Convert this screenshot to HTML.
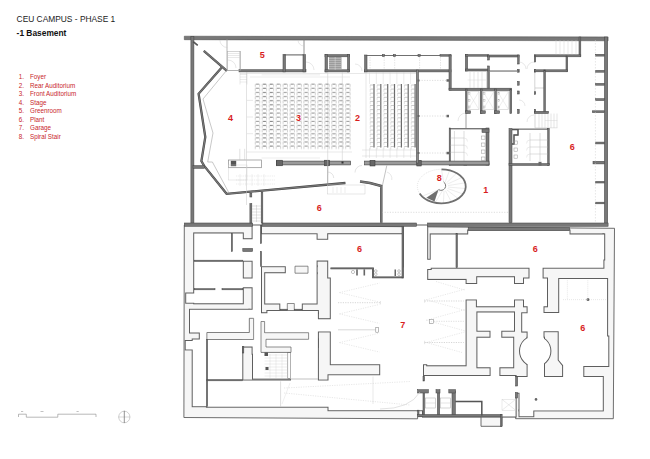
<!DOCTYPE html>
<html><head><meta charset="utf-8"><title>CEU Campus - Phase 1</title>
<style>
html,body{margin:0;padding:0;background:#fff;}
body{width:650px;height:459px;overflow:hidden;}
svg{display:block;font-family:"Liberation Sans",sans-serif;}
.lg{fill:#c8262a;font-size:6.3px;}
</style></head><body>
<svg width="650" height="459" viewBox="0 0 650 459">
<rect width="650" height="459" fill="#fff"/>
<text x="16.6" y="21.6" font-size="8.4" fill="#222">CEU CAMPUS - PHASE 1</text>
<text x="16.6" y="36.2" font-size="8.4" font-weight="bold" fill="#111">-1 Basement</text>
<text x="18.7" y="79.3" class="lg">1.</text><text x="30" y="79.3" class="lg">Foyer</text>
<text x="18.7" y="87.8" class="lg">2.</text><text x="30" y="87.8" class="lg">Rear Auditorium</text>
<text x="18.7" y="96.3" class="lg">3.</text><text x="30" y="96.3" class="lg">Front Auditorium</text>
<text x="18.7" y="104.8" class="lg">4.</text><text x="30" y="104.8" class="lg">Stage</text>
<text x="18.7" y="113.3" class="lg">5.</text><text x="30" y="113.3" class="lg">Greenroom</text>
<text x="18.7" y="121.8" class="lg">6.</text><text x="30" y="121.8" class="lg">Plant</text>
<text x="18.7" y="130.3" class="lg">7.</text><text x="30" y="130.3" class="lg">Garage</text>
<text x="18.7" y="138.8" class="lg">8.</text><text x="30" y="138.8" class="lg">Spiral Stair</text>
<!-- scale bar -->
<polyline points="18.5,417 18.5,414.2 26.3,414.2 26.3,417.2 57.8,417.2 57.8,414.2 96,414.2 96,417" fill="none" stroke="#8a8a8a" stroke-width="0.6"/>
<rect x="21" y="411" width="2.2" height="0.9" fill="#bbb"/><rect x="40.5" y="411" width="3" height="0.9" fill="#bbb"/><rect x="76.5" y="411" width="2.2" height="0.9" fill="#bbb"/>
<ellipse cx="124.3" cy="417" rx="5.6" ry="5.8" fill="none" stroke="#a0a0a0" stroke-width="0.5"/>
<line x1="118.3" y1="417" x2="130.3" y2="417" stroke="#b0b0b0" stroke-width="0.5"/>
<line x1="124.3" y1="410.8" x2="124.3" y2="423" stroke="#666" stroke-width="0.7"/>
<polygon points="184.3,225 614.5,228.3 613.3,418.7 515.6,418.7 515.6,396 502,396 502,426.3 481,426.3 481,416.6 417.6,416.6 417.6,418.8 183.9,417.5" fill="#f6f6f6" stroke="#5e5e5e" stroke-width="0.9" />
<rect x="194.2" y="233.4" width="48.6" height="69.9" fill="none" stroke="#5e5e5e" stroke-width="2.0"/>
<rect x="186.2" y="293.5" width="8" height="9.2" fill="none" stroke="#5e5e5e" stroke-width="2.0"/>
<rect x="242.8" y="239.2" width="9.8" height="21.5" fill="none" stroke="#5e5e5e" stroke-width="2.0"/>
<rect x="242.8" y="278.5" width="9.8" height="8.8" fill="none" stroke="#5e5e5e" stroke-width="2.0"/>
<rect x="252.6" y="225.5" width="8.4" height="128.3" fill="none" stroke="#5e5e5e" stroke-width="2.0"/>
<rect x="261" y="234.3" width="55.6" height="31.9" fill="none" stroke="#5e5e5e" stroke-width="2.0"/>
<rect x="285.8" y="266.2" width="30.8" height="7" fill="none" stroke="#5e5e5e" stroke-width="2.0"/>
<rect x="265.2" y="273.2" width="51.4" height="30.3" fill="none" stroke="#5e5e5e" stroke-width="2.0"/>
<rect x="280.3" y="303.3" width="21.5" height="7.2" fill="none" stroke="#5e5e5e" stroke-width="2.0"/>
<rect x="316.6" y="239.8" width="11.6" height="20.8" fill="none" stroke="#5e5e5e" stroke-width="2.0"/>
<rect x="328.2" y="234.2" width="73.8" height="43.3" fill="none" stroke="#5e5e5e" stroke-width="2.0"/>
<rect x="267.4" y="311" width="50.5" height="2.2" fill="none" stroke="#5e5e5e" stroke-width="2.0"/>
<rect x="261" y="313.2" width="56.9" height="18.2" fill="none" stroke="#5e5e5e" stroke-width="2.0"/>
<rect x="317.9" y="319.2" width="12.9" height="12.2" fill="none" stroke="#5e5e5e" stroke-width="2.0"/>
<rect x="264.6" y="331.4" width="53.3" height="15.6" fill="none" stroke="#5e5e5e" stroke-width="2.0"/>
<rect x="291" y="339.3" width="26.9" height="42" fill="none" stroke="#5e5e5e" stroke-width="2.0"/>
<rect x="253" y="352.4" width="38" height="26.4" fill="none" stroke="#5e5e5e" stroke-width="2.0"/>
<rect x="242.3" y="339.3" width="18.7" height="7.3" fill="none" stroke="#5e5e5e" stroke-width="2.0"/>
<rect x="206.9" y="339.5" width="35.4" height="41.1" fill="none" stroke="#5e5e5e" stroke-width="2.0"/>
<rect x="190" y="309.8" width="59.3" height="22.7" fill="none" stroke="#5e5e5e" stroke-width="2.0"/>
<rect x="249.3" y="309.8" width="3.3" height="8.5" fill="none" stroke="#5e5e5e" stroke-width="2.0"/>
<rect x="199.8" y="332.5" width="7.1" height="7" fill="none" stroke="#5e5e5e" stroke-width="2.0"/>
<rect x="192.7" y="339.5" width="14.2" height="66.7" fill="none" stroke="#5e5e5e" stroke-width="2.0"/>
<rect x="185.7" y="341" width="7" height="8.4" fill="none" stroke="#5e5e5e" stroke-width="2.0"/>
<rect x="206.9" y="380.6" width="121.6" height="26.1" fill="none" stroke="#5e5e5e" stroke-width="2.0"/>
<rect x="328.5" y="375.3" width="89.1" height="34.9" fill="none" stroke="#5e5e5e" stroke-width="2.0"/>
<rect x="330.8" y="267.5" width="96.4" height="96.7" fill="none" stroke="#5e5e5e" stroke-width="2.0"/>
<rect x="380.2" y="364.2" width="42.8" height="11.8" fill="none" stroke="#5e5e5e" stroke-width="2.0"/>
<rect x="417.6" y="376" width="5.4" height="34.2" fill="none" stroke="#5e5e5e" stroke-width="2.0"/>
<rect x="403.7" y="225.5" width="23.5" height="43.5" fill="none" stroke="#5e5e5e" stroke-width="2.0"/>
<rect x="427.2" y="259.8" width="3.5" height="9.2" fill="none" stroke="#5e5e5e" stroke-width="2.0"/>
<rect x="427.2" y="279.9" width="38.4" height="85.4" fill="none" stroke="#5e5e5e" stroke-width="2.0"/>
<rect x="430.7" y="234.4" width="172.7" height="33.3" fill="none" stroke="#5e5e5e" stroke-width="2.0"/>
<rect x="603.4" y="234.4" width="0.8" height="25.1" fill="none" stroke="#5e5e5e" stroke-width="2.0"/>
<rect x="468.2" y="230.5" width="101.3" height="3.9" fill="none" stroke="#5e5e5e" stroke-width="2.0"/>
<rect x="529.5" y="267.7" width="13.1" height="11.3" fill="none" stroke="#5e5e5e" stroke-width="2.0"/>
<rect x="524" y="278.5" width="23" height="27.8" fill="none" stroke="#5e5e5e" stroke-width="2.0"/>
<rect x="465.5" y="284" width="62.1" height="15.4" fill="none" stroke="#5e5e5e" stroke-width="2.0"/>
<rect x="477.2" y="277.2" width="36.8" height="22.2" fill="none" stroke="#5e5e5e" stroke-width="2.0"/>
<rect x="476.9" y="299.4" width="37.1" height="6.9" fill="none" stroke="#5e5e5e" stroke-width="2.0"/>
<rect x="527.6" y="306.3" width="15.9" height="31.4" fill="none" stroke="#5e5e5e" stroke-width="2.0"/>
<rect x="522.2" y="313.3" width="5.4" height="18.3" fill="none" stroke="#5e5e5e" stroke-width="2.0"/>
<rect x="543.5" y="313" width="15.7" height="18.2" fill="none" stroke="#5e5e5e" stroke-width="2.0"/>
<rect x="527.6" y="337.7" width="16.4" height="39.8" fill="none" stroke="#5e5e5e" stroke-width="2.0"/>
<circle cx="535.2" cy="351.1" r="15.2" fill="none" stroke="#5e5e5e" stroke-width="2.0"/>
<polygon points="559.2,279 607.1,279 607.1,336.4 608.3,336.4 608.3,366 583.3,366 583.3,377.5 563.1,377.5 563.1,365.3 558.7,360 558.7,331 559.2,331" fill="none" stroke="#5e5e5e" stroke-width="2.0"/>
<rect x="519.5" y="377" width="83.3" height="33.4" fill="none" stroke="#5e5e5e" stroke-width="2.0"/>
<rect x="519.5" y="410.4" width="13.8" height="5.8" fill="none" stroke="#5e5e5e" stroke-width="2.0"/>
<rect x="515.6" y="377" width="3.9" height="15.7" fill="none" stroke="#5e5e5e" stroke-width="2.0"/>
<rect x="477.4" y="312.4" width="36.6" height="18.3" fill="none" stroke="#5e5e5e" stroke-width="2.0"/>
<rect x="477.4" y="337.7" width="35.8" height="29.6" fill="none" stroke="#5e5e5e" stroke-width="2.0"/>
<rect x="490.5" y="330.7" width="10.8" height="7" fill="none" stroke="#5e5e5e" stroke-width="2.0"/>
<rect x="490.6" y="367.3" width="8.8" height="9.2" fill="none" stroke="#5e5e5e" stroke-width="2.0"/>
<rect x="423" y="376" width="92.6" height="40.6" fill="none" stroke="#5e5e5e" stroke-width="2.0"/>
<path d="M194.2 233.4H242.8V303.3H194.2ZM186.2 293.5H194.2V302.7H186.2ZM242.8 239.2H252.6V260.7H242.8ZM242.8 278.5H252.6V287.3H242.8ZM252.6 225.5H261V353.8H252.6ZM261 234.3H316.6V266.2H261ZM285.8 266.2H316.6V273.2H285.8ZM265.2 273.2H316.6V303.5H265.2ZM280.3 303.3H301.8V310.5H280.3ZM316.6 239.8H328.2V260.6H316.6ZM328.2 234.2H402V277.5H328.2ZM267.4 311H317.9V313.2H267.4ZM261 313.2H317.9V331.4H261ZM317.9 319.2H330.8V331.4H317.9ZM264.6 331.4H317.9V347H264.6ZM291 339.3H317.9V381.3H291ZM253 352.4H291V378.8H253ZM242.3 339.3H261V346.6H242.3ZM206.9 339.5H242.3V380.6H206.9ZM190 309.8H249.3V332.5H190ZM249.3 309.8H252.6V318.3H249.3ZM199.8 332.5H206.9V339.5H199.8ZM192.7 339.5H206.9V406.2H192.7ZM185.7 341H192.7V349.4H185.7ZM206.9 380.6H328.5V406.7H206.9ZM328.5 375.3H417.6V410.2H328.5ZM330.8 267.5H427.2V364.2H330.8ZM380.2 364.2H423V376H380.2ZM417.6 376H423V410.2H417.6ZM403.7 225.5H427.2V269H403.7ZM427.2 259.8H430.7V269H427.2ZM427.2 279.9H465.6V365.3H427.2ZM430.7 234.4H603.4V267.7H430.7ZM603.4 234.4H604.2V259.5H603.4ZM468.2 230.5H569.5V234.4H468.2ZM529.5 267.7H542.6V279H529.5ZM524 278.5H547V306.3H524ZM465.5 284H527.6V299.4H465.5ZM477.2 277.2H514V299.4H477.2ZM476.9 299.4H514V306.3H476.9ZM527.6 306.3H543.5V337.7H527.6ZM522.2 313.3H527.6V331.6H522.2ZM543.5 313H559.2V331.2H543.5ZM527.6 337.7H544V377.5H527.6ZM520 351.1A15.2 15.2 0 0 1 550.4 351.1A15.2 15.2 0 0 1 520 351.1ZM559.2 279L607.1 279L607.1 336.4L608.3 336.4L608.3 366L583.3 366L583.3 377.5L563.1 377.5L563.1 365.3L558.7 360L558.7 331L559.2 331ZM519.5 377H602.8V410.4H519.5ZM519.5 410.4H533.3V416.2H519.5ZM515.6 377H519.5V392.7H515.6ZM477.4 312.4H514V330.7H477.4ZM477.4 337.7H513.2V367.3H477.4ZM490.5 330.7H501.3V337.7H490.5ZM490.6 367.3H499.4V376.5H490.6ZM423 376H515.6V416.6H423Z" fill="#fff" fill-rule="nonzero"/>
<polygon points="295,266.2 308,266.2 308,273.2 295,273.2" fill="#f6f6f6" stroke="#5e5e5e" stroke-width="0.7" />
<polygon points="287.3,303.5 294.3,303.5 294.3,310.5 287.3,310.5" fill="#f6f6f6" stroke="#5e5e5e" stroke-width="0.7" />
<polygon points="261,321.5 264.6,321.5 264.6,332.7 308.6,332.7 308.6,339.3 266,339.3 266,347 291,347 291,352.4 261,352.4" fill="#f6f6f6" stroke="#5e5e5e" stroke-width="0.7" />
<polygon points="249.3,318.3 253.6,318.3 253.6,339.5 206.9,339.5 206.9,332.5 249.3,332.5" fill="#f6f6f6" stroke="#5e5e5e" stroke-width="0.7" />
<rect x="194.2" y="260.2" width="48.6" height="1.2" fill="#787878" stroke="#474747" stroke-width="0.55" />
<rect x="194.2" y="288.7" width="20.8" height="1.1" fill="#787878" stroke="#474747" stroke-width="0.55" />
<rect x="222" y="288.7" width="20.8" height="1.1" fill="#787878" stroke="#474747" stroke-width="0.55" />
<rect x="231.3" y="233.4" width="1.1" height="18.1" fill="#787878" stroke="#474747" stroke-width="0.55" />
<rect x="242.8" y="248.4" width="9.8" height="3.1" fill="#787878" stroke="#474747" stroke-width="0.55" />
<rect x="260.4" y="225.5" width="1.1" height="18" fill="#787878" stroke="#474747" stroke-width="0.55" />
<rect x="260.4" y="251.5" width="1.1" height="14.7" fill="#787878" stroke="#474747" stroke-width="0.55" />
<rect x="280.3" y="309.2" width="7" height="1.4" fill="#787878" stroke="#474747" stroke-width="0.55" />
<rect x="294.3" y="309.2" width="7.5" height="1.4" fill="#787878" stroke="#474747" stroke-width="0.55" />
<polyline points="330.5,268.4 373,268.4 373,277.4 402,277.4" fill="none" stroke="#474747" stroke-width="1.8" stroke-linejoin="miter" />
<polyline points="330.5,268.4 373,268.4 373,277.4 402,277.4" fill="none" stroke="#787878" stroke-width="0.7" stroke-linejoin="miter" />
<rect x="402" y="225.5" width="1.7" height="52.6" fill="#787878" stroke="#474747" stroke-width="0.55" />
<rect x="456" y="233.7" width="1.4" height="34" fill="#787878" stroke="#474747" stroke-width="0.55" />
<rect x="468.2" y="227.6" width="101.3" height="2.9" fill="#787878" stroke="#474747" stroke-width="0.55" />
<rect x="206.4" y="339.5" width="1.2" height="67.2" fill="#787878" stroke="#474747" stroke-width="0.55" />
<rect x="206.9" y="379.6" width="35.4" height="1.2" fill="#787878" stroke="#474747" stroke-width="0.55" />
<line x1="253" y1="379" x2="317.9" y2="379" stroke="#999" stroke-width="0.6" />
<rect x="242.3" y="346.6" width="1.5" height="6.4" fill="#787878" stroke="#474747" stroke-width="0.55" />
<rect x="287.8" y="352.4" width="2.8" height="26.1" fill="none" stroke="#666" stroke-width="0.5" />
<line x1="264.6" y1="355" x2="287.5" y2="355" stroke="#d0d0d0" stroke-width="0.4" />
<line x1="264.6" y1="358" x2="287.5" y2="358" stroke="#d0d0d0" stroke-width="0.4" />
<line x1="264.6" y1="361" x2="287.5" y2="361" stroke="#d0d0d0" stroke-width="0.4" />
<line x1="264.6" y1="364" x2="287.5" y2="364" stroke="#d0d0d0" stroke-width="0.4" />
<line x1="264.6" y1="367" x2="287.5" y2="367" stroke="#d0d0d0" stroke-width="0.4" />
<line x1="264.6" y1="370" x2="287.5" y2="370" stroke="#d0d0d0" stroke-width="0.4" />
<line x1="264.6" y1="373" x2="287.5" y2="373" stroke="#d0d0d0" stroke-width="0.4" />
<line x1="264.6" y1="376" x2="287.5" y2="376" stroke="#d0d0d0" stroke-width="0.4" />
<line x1="270" y1="354" x2="270" y2="378" stroke="#d4d4d4" stroke-width="0.4" />
<line x1="276" y1="354" x2="276" y2="378" stroke="#d4d4d4" stroke-width="0.4" />
<line x1="282" y1="354" x2="282" y2="378" stroke="#d4d4d4" stroke-width="0.4" />
<rect x="264.5" y="352.4" width="3.5" height="3.6" fill="#555" stroke="none" stroke-width="0.55" />
<rect x="265.5" y="367" width="3" height="3" fill="#555" stroke="none" stroke-width="0.55" />
<rect x="423" y="390.8" width="1.5" height="24.7" fill="#787878" stroke="#474747" stroke-width="0.55" />
<rect x="437.4" y="390.8" width="2.2" height="24.7" fill="#787878" stroke="#474747" stroke-width="0.55" />
<rect x="452" y="390.8" width="3.3" height="24.7" fill="#787878" stroke="#474747" stroke-width="0.55" />
<rect x="417.6" y="389.7" width="10.8" height="3.3" fill="#787878" stroke="#474747" stroke-width="0.55" />
<rect x="436" y="389.7" width="4" height="3.3" fill="#787878" stroke="#474747" stroke-width="0.55" />
<rect x="448.8" y="389.7" width="6.5" height="3.3" fill="#787878" stroke="#474747" stroke-width="0.55" />
<rect x="417.6" y="410.2" width="1.4" height="5.3" fill="#787878" stroke="#474747" stroke-width="0.55" />
<rect x="417.6" y="414.5" width="84.4" height="2.1" fill="#787878" stroke="#474747" stroke-width="0.55" />
<rect x="500.5" y="414.5" width="1.5" height="11.8" fill="#787878" stroke="#474747" stroke-width="0.55" />
<polyline points="455.3,401.5 481.8,401.5 481.8,415.5" fill="none" stroke="#474747" stroke-width="1.4" stroke-linejoin="miter" />
<polyline points="455.3,401.5 481.8,401.5 481.8,415.5" fill="none" stroke="#787878" stroke-width="0.3" stroke-linejoin="miter" />
<rect x="515.6" y="376.5" width="2" height="9.5" fill="#787878" stroke="#474747" stroke-width="0.55" />
<rect x="515.6" y="392.7" width="2" height="5.3" fill="#787878" stroke="#474747" stroke-width="0.55" />
<rect x="423" y="376.5" width="1.5" height="4.5" fill="#787878" stroke="#474747" stroke-width="0.55" />
<rect x="425.5" y="398" width="10" height="10" fill="none" stroke="#aaa" stroke-width="0.5" />
<line x1="425.5" y1="403" x2="435.5" y2="403" stroke="#bbb" stroke-width="0.4" />
<rect x="440.5" y="398" width="10" height="10" fill="none" stroke="#aaa" stroke-width="0.5" />
<line x1="440.5" y1="403" x2="450.5" y2="403" stroke="#bbb" stroke-width="0.4" />
<rect x="502" y="399.4" width="13.6" height="10.8" fill="none" stroke="#ccc" stroke-width="0.4" />
<line x1="502" y1="399.4" x2="515.6" y2="410.2" stroke="#ccc" stroke-width="0.4" />
<line x1="515.6" y1="399.4" x2="502" y2="410.2" stroke="#ccc" stroke-width="0.4" />
<rect x="356.2" y="269.3" width="1.6" height="6.2" fill="#666" stroke="none" stroke-width="0.55" />
<rect x="363.5" y="269.3" width="1.6" height="6.2" fill="#666" stroke="none" stroke-width="0.55" />
<circle cx="353" cy="272" r="1.6" fill="none" stroke="#888" stroke-width="0.5"/>
<circle cx="375.8" cy="271" r="1.3" fill="none" stroke="#888" stroke-width="0.5"/><circle cx="375.8" cy="274.2" r="1.3" fill="none" stroke="#888" stroke-width="0.5"/>
<circle cx="399" cy="271" r="1.3" fill="none" stroke="#888" stroke-width="0.5"/><circle cx="399" cy="274.2" r="1.3" fill="none" stroke="#888" stroke-width="0.5"/>
<rect x="394.5" y="269.5" width="1.5" height="6.5" fill="#666" stroke="none" stroke-width="0.55" />
<line x1="338" y1="302.7" x2="380.5" y2="302.7" stroke="#c4c4c4" stroke-width="0.7" stroke-dasharray="1.2 1.2"/>
<line x1="380.5" y1="301" x2="380.5" y2="304.4" stroke="#ccc" stroke-width="0.5" />
<line x1="338" y1="329.8" x2="375.5" y2="329.8" stroke="#bdbdbd" stroke-width="0.6" />
<line x1="424.6" y1="301" x2="463.8" y2="301" stroke="#c4c4c4" stroke-width="0.7" stroke-dasharray="1.2 1.2"/>
<line x1="424.6" y1="299.3" x2="424.6" y2="302.7" stroke="#ccc" stroke-width="0.5" />
<line x1="434" y1="321.3" x2="463.8" y2="321.3" stroke="#c8c8c8" stroke-width="0.6" stroke-dasharray="1.2 1.2"/>
<line x1="424.6" y1="342.5" x2="463.8" y2="342.5" stroke="#c4c4c4" stroke-width="0.7" stroke-dasharray="1.2 1.2"/>
<line x1="424.6" y1="340.8" x2="424.6" y2="344.2" stroke="#ccc" stroke-width="0.5" />
<rect x="375.8" y="327.6" width="2.8" height="4.6" fill="#fff" stroke="#777" stroke-width="0.5" />
<rect x="429.3" y="319.5" width="4" height="3.8" fill="#fff" stroke="#777" stroke-width="0.5" />
<line x1="339.5" y1="292.6" x2="379.5" y2="283.1" stroke="#d0d0d0" stroke-width="0.5" stroke-dasharray="1.2 1.2"/>
<line x1="339.5" y1="292.6" x2="379.5" y2="302.1" stroke="#d0d0d0" stroke-width="0.5" stroke-dasharray="1.2 1.2"/>
<line x1="339.5" y1="313.9" x2="379.5" y2="304.4" stroke="#d0d0d0" stroke-width="0.5" stroke-dasharray="1.2 1.2"/>
<line x1="339.5" y1="313.9" x2="379.5" y2="323.4" stroke="#d0d0d0" stroke-width="0.5" stroke-dasharray="1.2 1.2"/>
<line x1="339.5" y1="342.6" x2="379.5" y2="333.1" stroke="#d0d0d0" stroke-width="0.5" stroke-dasharray="1.2 1.2"/>
<line x1="339.5" y1="342.6" x2="379.5" y2="352.1" stroke="#d0d0d0" stroke-width="0.5" stroke-dasharray="1.2 1.2"/>
<line x1="436" y1="281.5" x2="464.5" y2="290" stroke="#d0d0d0" stroke-width="0.5" stroke-dasharray="1.2 1.2"/>
<line x1="426.3" y1="299.8" x2="464.5" y2="289.3" stroke="#d0d0d0" stroke-width="0.5" stroke-dasharray="1.2 1.2"/>
<line x1="426.3" y1="299.8" x2="464.5" y2="310.3" stroke="#d0d0d0" stroke-width="0.5" stroke-dasharray="1.2 1.2"/>
<line x1="426.3" y1="320.2" x2="464.5" y2="309.7" stroke="#d0d0d0" stroke-width="0.5" stroke-dasharray="1.2 1.2"/>
<line x1="426.3" y1="320.2" x2="464.5" y2="330.7" stroke="#d0d0d0" stroke-width="0.5" stroke-dasharray="1.2 1.2"/>
<line x1="426.3" y1="342.5" x2="464.5" y2="332" stroke="#d0d0d0" stroke-width="0.5" stroke-dasharray="1.2 1.2"/>
<line x1="426.3" y1="342.5" x2="462" y2="352.5" stroke="#d0d0d0" stroke-width="0.5" stroke-dasharray="1.2 1.2"/>
<line x1="373" y1="376.5" x2="373" y2="404" stroke="#d0d0d0" stroke-width="0.5" />
<line x1="280.6" y1="381.3" x2="280.6" y2="406.7" stroke="#bdbdbd" stroke-width="0.5" />
<line x1="282" y1="404" x2="290" y2="383" stroke="#d8d8d8" stroke-width="0.4" />
<line x1="284" y1="388" x2="410" y2="381.5" stroke="#cfcfcf" stroke-width="0.5" stroke-dasharray="1.2 1.2"/>
<line x1="284" y1="393" x2="410" y2="405" stroke="#cfcfcf" stroke-width="0.5" stroke-dasharray="1.2 1.2"/>
<path d="M380,409 Q410,409 420,392" fill="none" stroke="#cfcfcf" stroke-width="0.6"/>
<circle cx="588" cy="299.6" r="1.5" fill="#666"/><circle cx="536" cy="399.4" r="1.3" fill="#666"/>
<line x1="567.4" y1="280.3" x2="567.4" y2="299" stroke="#ccc" stroke-width="0.45" stroke-dasharray="1 1"/>
<line x1="587.8" y1="280.3" x2="587.8" y2="299" stroke="#ccc" stroke-width="0.45" stroke-dasharray="1 1"/>
<line x1="563" y1="299.6" x2="607" y2="299.6" stroke="#ccc" stroke-width="0.45" stroke-dasharray="1 1"/>
<polygon points="184.3,36.2 608.1,36.9 608.1,40.8 184.3,39.7" fill="#787878" stroke="#474747" stroke-width="0.5" />
<rect x="190.9" y="36.5" width="3" height="189" fill="#787878" stroke="#474747" stroke-width="0.55" />
<rect x="604.4" y="37" width="3.3" height="188.4" fill="#787878" stroke="#474747" stroke-width="0.55" />
<rect x="184.3" y="223" width="68.4" height="3.3" fill="#787878" stroke="#474747" stroke-width="0.55" />
<rect x="262" y="223" width="154.5" height="3.3" fill="#787878" stroke="#474747" stroke-width="0.55" />
<rect x="427.5" y="223" width="180.6" height="3.3" fill="#787878" stroke="#474747" stroke-width="0.55" />
<rect x="249.9" y="203.7" width="1.9" height="19.3" fill="#787878" stroke="#474747" stroke-width="0.55" />
<rect x="261.2" y="192" width="1.6" height="31" fill="#787878" stroke="#474747" stroke-width="0.55" />
<rect x="249.9" y="193" width="1.9" height="4" fill="#787878" stroke="#474747" stroke-width="0.55" />
<line x1="252" y1="206" x2="261" y2="206" stroke="#b9b9b9" stroke-width="0.4" />
<line x1="252" y1="209" x2="261" y2="209" stroke="#b9b9b9" stroke-width="0.4" />
<line x1="252" y1="212" x2="261" y2="212" stroke="#b9b9b9" stroke-width="0.4" />
<line x1="252" y1="215" x2="261" y2="215" stroke="#b9b9b9" stroke-width="0.4" />
<line x1="252" y1="218" x2="261" y2="218" stroke="#b9b9b9" stroke-width="0.4" />
<line x1="252" y1="221" x2="261" y2="221" stroke="#b9b9b9" stroke-width="0.4" />
<line x1="256.5" y1="205" x2="256.5" y2="222" stroke="#b9b9b9" stroke-width="0.4" />
<polyline points="221.5,67.8 198.6,93.8 205.3,137 201.4,161 204,165.6 226.6,193.8 345.4,183" fill="none" stroke="#474747" stroke-width="2.3" stroke-linejoin="miter" />
<polyline points="221.5,67.8 198.6,93.8 205.3,137 201.4,161 204,165.6 226.6,193.8 345.4,183" fill="none" stroke="#787878" stroke-width="1.1999999999999997" stroke-linejoin="miter" />
<line x1="203.8" y1="50.8" x2="226.9" y2="70.8" stroke="#474747" stroke-width="2.3"/>
<line x1="203.8" y1="50.8" x2="226.9" y2="70.8" stroke="#787878" stroke-width="1.1999999999999997" />
<line x1="193.2" y1="41.6" x2="197.7" y2="45.4" stroke="#474747" stroke-width="1.5"/>
<line x1="193.2" y1="41.6" x2="197.7" y2="45.4" stroke="#787878" stroke-width="0.3999999999999999" />
<rect x="193" y="165.6" width="11.3" height="2.7" fill="#787878" stroke="#474747" stroke-width="0.55" />
<polyline points="226.5,70.5 203,99 213,133 207.7,162 212.4,162 229,193" fill="none" stroke="#9a9a9a" stroke-width="0.55" />
<line x1="239.8" y1="148.8" x2="239.8" y2="159.6" stroke="#bbb" stroke-width="0.45" />
<line x1="244.7" y1="148.8" x2="244.7" y2="159.6" stroke="#bbb" stroke-width="0.45" />
<polyline points="360,181.5 370,183 381.3,186 381.3,222.7" fill="none" stroke="#474747" stroke-width="2.4" stroke-linejoin="miter" />
<polyline points="360,181.5 370,183 381.3,186 381.3,222.7" fill="none" stroke="#787878" stroke-width="1.2999999999999998" stroke-linejoin="miter" />
<rect x="239" y="69.7" width="67" height="2.2" fill="#787878" stroke="#474747" stroke-width="0.55" />
<line x1="227" y1="39" x2="227" y2="70.5" stroke="#999" stroke-width="0.7" />
<line x1="240" y1="51" x2="240" y2="70.5" stroke="#999" stroke-width="0.7" />
<line x1="227" y1="70.5" x2="239" y2="70.5" stroke="#999" stroke-width="0.7" />
<rect x="283" y="54.6" width="2.5" height="17.3" fill="#787878" stroke="#474747" stroke-width="0.55" />
<rect x="303" y="54.6" width="2.5" height="17.3" fill="#787878" stroke="#474747" stroke-width="0.55" />
<line x1="284" y1="54.9" x2="304" y2="54.9" stroke="#474747" stroke-width="0.8"/>
<line x1="284" y1="54.9" x2="304" y2="54.9" stroke="#787878" stroke-width="0.3" />
<line x1="304" y1="39" x2="304" y2="55" stroke="#777" stroke-width="0.8" />
<rect x="325" y="54.6" width="24.7" height="2.2" fill="#787878" stroke="#474747" stroke-width="0.55" />
<rect x="325" y="54.6" width="2.5" height="17.3" fill="#787878" stroke="#474747" stroke-width="0.55" />
<rect x="347.5" y="54.6" width="2.2" height="17.3" fill="#787878" stroke="#474747" stroke-width="0.55" />
<rect x="325" y="69.8" width="24.7" height="2.1" fill="#787878" stroke="#474747" stroke-width="0.55" />
<rect x="329" y="57" width="12.5" height="12.8" fill="#9c9c9c" stroke="none" stroke-width="0.55" />
<line x1="329" y1="58.5" x2="341.5" y2="58.5" stroke="#cfcfcf" stroke-width="0.5" />
<line x1="329" y1="60.5" x2="341.5" y2="60.5" stroke="#cfcfcf" stroke-width="0.5" />
<line x1="329" y1="62.5" x2="341.5" y2="62.5" stroke="#cfcfcf" stroke-width="0.5" />
<line x1="329" y1="64.5" x2="341.5" y2="64.5" stroke="#cfcfcf" stroke-width="0.5" />
<line x1="329" y1="66.5" x2="341.5" y2="66.5" stroke="#cfcfcf" stroke-width="0.5" />
<line x1="329" y1="68.5" x2="341.5" y2="68.5" stroke="#cfcfcf" stroke-width="0.5" />
<line x1="335.2" y1="57" x2="335.2" y2="69.8" stroke="#ddd" stroke-width="0.5" />
<rect x="364.6" y="69.8" width="86.4" height="2.1" fill="#787878" stroke="#474747" stroke-width="0.55" />
<rect x="364.6" y="55" width="2.4" height="16.9" fill="#787878" stroke="#474747" stroke-width="0.55" />
<line x1="366" y1="55.5" x2="451" y2="55.5" stroke="#474747" stroke-width="0.8"/>
<line x1="366" y1="55.5" x2="451" y2="55.5" stroke="#787878" stroke-width="0.3" />
<rect x="382.5" y="54.5" width="2.2" height="2" fill="#787878" stroke="#474747" stroke-width="0.55" />
<rect x="393.5" y="54.5" width="2.2" height="2" fill="#787878" stroke="#474747" stroke-width="0.55" />
<rect x="418" y="54.5" width="2.2" height="2" fill="#787878" stroke="#474747" stroke-width="0.55" />
<line x1="370" y1="57" x2="370" y2="69.5" stroke="#c8c8c8" stroke-width="0.45" stroke-dasharray="1.5 1"/>
<line x1="384.2" y1="57" x2="384.2" y2="69.5" stroke="#c8c8c8" stroke-width="0.45" stroke-dasharray="1.5 1"/>
<line x1="394.7" y1="57" x2="394.7" y2="69.5" stroke="#c8c8c8" stroke-width="0.45" stroke-dasharray="1.5 1"/>
<line x1="419.6" y1="57" x2="419.6" y2="69.5" stroke="#c8c8c8" stroke-width="0.45" stroke-dasharray="1.5 1"/>
<line x1="440.5" y1="57" x2="440.5" y2="69.5" stroke="#c8c8c8" stroke-width="0.45" stroke-dasharray="1.5 1"/>
<rect x="440" y="54.6" width="11" height="1.6" fill="#787878" stroke="#474747" stroke-width="0.55" />
<rect x="449" y="55" width="2.2" height="35" fill="#787878" stroke="#474747" stroke-width="0.55" />
<rect x="465.4" y="54.6" width="2.2" height="16.4" fill="#787878" stroke="#474747" stroke-width="0.55" />
<rect x="465.4" y="69" width="23.1" height="2" fill="#787878" stroke="#474747" stroke-width="0.55" />
<rect x="465.4" y="54.6" width="23.1" height="1.6" fill="#787878" stroke="#474747" stroke-width="0.55" />
<rect x="487.7" y="55" width="31.3" height="2" fill="#787878" stroke="#474747" stroke-width="0.55" />
<rect x="487.7" y="56" width="1.6" height="4" fill="#787878" stroke="#474747" stroke-width="0.55" />
<rect x="487.7" y="66" width="1.6" height="22.5" fill="#787878" stroke="#474747" stroke-width="0.55" />
<rect x="517.6" y="55" width="1.6" height="9" fill="#787878" stroke="#474747" stroke-width="0.55" />
<rect x="517.6" y="69.4" width="1.6" height="2.8" fill="#787878" stroke="#474747" stroke-width="0.55" />
<rect x="517.6" y="81.5" width="1.6" height="3.7" fill="#787878" stroke="#474747" stroke-width="0.55" />
<rect x="517.6" y="91" width="1.6" height="3" fill="#787878" stroke="#474747" stroke-width="0.55" />
<rect x="517.6" y="109.3" width="1.6" height="4.2" fill="#787878" stroke="#474747" stroke-width="0.55" />
<line x1="488.5" y1="71" x2="519" y2="71" stroke="#474747" stroke-width="0.7"/>
<line x1="488.5" y1="71" x2="519" y2="71" stroke="#787878" stroke-width="0.3" />
<rect x="579" y="37" width="1.8" height="19" fill="#787878" stroke="#474747" stroke-width="0.55" />
<rect x="534.6" y="54.8" width="46.2" height="2" fill="#787878" stroke="#474747" stroke-width="0.55" />
<rect x="534.3" y="55" width="1.4" height="7" fill="#787878" stroke="#474747" stroke-width="0.55" />
<rect x="566" y="56" width="1.7" height="15.5" fill="#787878" stroke="#474747" stroke-width="0.55" />
<rect x="534.3" y="69.4" width="1.4" height="2.8" fill="#787878" stroke="#474747" stroke-width="0.55" />
<rect x="534.3" y="91.7" width="1.4" height="2.7" fill="#787878" stroke="#474747" stroke-width="0.55" />
<rect x="534.3" y="109.3" width="1.4" height="3.7" fill="#787878" stroke="#474747" stroke-width="0.55" />
<line x1="534.8" y1="72" x2="534.8" y2="92" stroke="#aaa" stroke-width="0.5" />
<line x1="535" y1="88" x2="544" y2="88" stroke="#aaa" stroke-width="0.5" />
<line x1="539" y1="113.5" x2="539" y2="127.8" stroke="#c4c4c4" stroke-width="0.45" />
<line x1="542" y1="113.5" x2="542" y2="127.8" stroke="#c4c4c4" stroke-width="0.45" />
<line x1="545" y1="113.5" x2="545" y2="127.8" stroke="#c4c4c4" stroke-width="0.45" />
<line x1="548" y1="113.5" x2="548" y2="127.8" stroke="#c4c4c4" stroke-width="0.45" />
<line x1="551" y1="113.5" x2="551" y2="127.8" stroke="#c4c4c4" stroke-width="0.45" />
<line x1="554" y1="113.5" x2="554" y2="127.8" stroke="#c4c4c4" stroke-width="0.45" />
<line x1="557" y1="113.5" x2="557" y2="127.8" stroke="#c4c4c4" stroke-width="0.45" />
<line x1="535" y1="113.5" x2="535" y2="127.8" stroke="#aaa" stroke-width="0.5" />
<line x1="535" y1="127.8" x2="557.4" y2="127.8" stroke="#c4c4c4" stroke-width="0.45" />
<line x1="545" y1="120.5" x2="557.4" y2="120.5" stroke="#d0d0d0" stroke-width="0.4" />
<line x1="488.5" y1="71.3" x2="518" y2="71.3" stroke="#999" stroke-width="0.6" />
<rect x="534.6" y="69.8" width="33.1" height="2" fill="#787878" stroke="#474747" stroke-width="0.55" />
<rect x="543.8" y="70" width="1.6" height="42.5" fill="#787878" stroke="#474747" stroke-width="0.55" />
<rect x="534.6" y="111.3" width="13.9" height="2.2" fill="#787878" stroke="#474747" stroke-width="0.55" />
<line x1="556" y1="40" x2="556" y2="54.5" stroke="#c8c8c8" stroke-width="0.4" />
<line x1="560" y1="40" x2="560" y2="54.5" stroke="#c8c8c8" stroke-width="0.4" />
<line x1="564" y1="40" x2="564" y2="54.5" stroke="#c8c8c8" stroke-width="0.4" />
<line x1="568" y1="40" x2="568" y2="54.5" stroke="#c8c8c8" stroke-width="0.4" />
<line x1="572" y1="40" x2="572" y2="54.5" stroke="#c8c8c8" stroke-width="0.4" />
<line x1="576" y1="40" x2="576" y2="54.5" stroke="#c8c8c8" stroke-width="0.4" />
<rect x="595.4" y="54.3" width="9.1" height="1.8" fill="#787878" stroke="#474747" stroke-width="0.55" />
<rect x="595.4" y="70.4" width="9.1" height="1.8" fill="#787878" stroke="#474747" stroke-width="0.55" />
<rect x="595.4" y="83.4" width="9.1" height="1.8" fill="#787878" stroke="#474747" stroke-width="0.55" />
<rect x="595.4" y="98.7" width="9.1" height="1.8" fill="#787878" stroke="#474747" stroke-width="0.55" />
<rect x="592.3" y="110.8" width="12.2" height="1.8" fill="#787878" stroke="#474747" stroke-width="0.55" />
<rect x="595.4" y="142.1" width="9.1" height="1.8" fill="#787878" stroke="#474747" stroke-width="0.55" />
<rect x="593" y="161.3" width="11.5" height="2.6" fill="#787878" stroke="#474747" stroke-width="0.55" />
<rect x="595.4" y="181.4" width="9.1" height="1.6" fill="#787878" stroke="#474747" stroke-width="0.55" />
<rect x="595.4" y="202.2" width="9.1" height="1.6" fill="#787878" stroke="#474747" stroke-width="0.55" />
<line x1="595.4" y1="40" x2="595.4" y2="222" stroke="#cccccc" stroke-width="0.5" stroke-dasharray="1.5 1.5"/>
<rect x="449" y="88.2" width="62.7" height="2.3" fill="#787878" stroke="#474747" stroke-width="0.55" />
<rect x="465.5" y="89" width="1.6" height="24.5" fill="#787878" stroke="#474747" stroke-width="0.55" />
<rect x="465.5" y="110.8" width="5" height="2.7" fill="#787878" stroke="#474747" stroke-width="0.55" />
<rect x="480.3" y="89" width="1.8" height="24.5" fill="#787878" stroke="#474747" stroke-width="0.55" />
<rect x="480.3" y="110.8" width="5" height="2.7" fill="#787878" stroke="#474747" stroke-width="0.55" />
<rect x="494.6" y="89" width="1.8" height="24.5" fill="#787878" stroke="#474747" stroke-width="0.55" />
<rect x="494.6" y="110.8" width="5" height="2.7" fill="#787878" stroke="#474747" stroke-width="0.55" />
<rect x="509.9" y="89" width="1.8" height="24.5" fill="#787878" stroke="#474747" stroke-width="0.55" />
<rect x="468" y="91.5" width="11" height="18" fill="none" stroke="#bbb" stroke-width="0.45" />
<line x1="468" y1="91.5" x2="479" y2="109.5" stroke="#d4d4d4" stroke-width="0.4" />
<line x1="479" y1="91.5" x2="468" y2="109.5" stroke="#d4d4d4" stroke-width="0.4" />
<rect x="468.5" y="92.5" width="1.5" height="2" fill="none" stroke="#aaa" stroke-width="0.4" />
<rect x="468.5" y="99.5" width="1.5" height="2" fill="none" stroke="#aaa" stroke-width="0.4" />
<rect x="468.5" y="106" width="1.5" height="2" fill="none" stroke="#aaa" stroke-width="0.4" />
<rect x="483" y="91.5" width="11" height="18" fill="none" stroke="#bbb" stroke-width="0.45" />
<line x1="483" y1="91.5" x2="494" y2="109.5" stroke="#d4d4d4" stroke-width="0.4" />
<line x1="494" y1="91.5" x2="483" y2="109.5" stroke="#d4d4d4" stroke-width="0.4" />
<rect x="483.5" y="92.5" width="1.5" height="2" fill="none" stroke="#aaa" stroke-width="0.4" />
<rect x="483.5" y="99.5" width="1.5" height="2" fill="none" stroke="#aaa" stroke-width="0.4" />
<rect x="483.5" y="106" width="1.5" height="2" fill="none" stroke="#aaa" stroke-width="0.4" />
<rect x="497.5" y="91.5" width="11" height="18" fill="none" stroke="#bbb" stroke-width="0.45" />
<line x1="497.5" y1="91.5" x2="508.5" y2="109.5" stroke="#d4d4d4" stroke-width="0.4" />
<line x1="508.5" y1="91.5" x2="497.5" y2="109.5" stroke="#d4d4d4" stroke-width="0.4" />
<rect x="498" y="92.5" width="1.5" height="2" fill="none" stroke="#aaa" stroke-width="0.4" />
<rect x="498" y="99.5" width="1.5" height="2" fill="none" stroke="#aaa" stroke-width="0.4" />
<rect x="498" y="106" width="1.5" height="2" fill="none" stroke="#aaa" stroke-width="0.4" />
<line x1="466" y1="113" x2="466" y2="128.5" stroke="#777" stroke-width="0.7" />
<rect x="449.2" y="128" width="39.8" height="1.4" fill="#777" stroke="none" stroke-width="0.55" />
<rect x="449.2" y="128" width="1.2" height="37" fill="#787878" stroke="#474747" stroke-width="0.55" />
<rect x="486" y="128" width="3" height="37" fill="#787878" stroke="#474747" stroke-width="0.55" />
<rect x="449.2" y="163" width="39.8" height="2.2" fill="#787878" stroke="#474747" stroke-width="0.55" />
<rect x="509" y="128.5" width="3" height="94.2" fill="#787878" stroke="#474747" stroke-width="0.55" />
<rect x="509" y="128.5" width="40.2" height="1.3" fill="#777" stroke="none" stroke-width="0.55" />
<rect x="547.7" y="128.5" width="1.5" height="36.9" fill="#787878" stroke="#474747" stroke-width="0.55" />
<rect x="509" y="163.6" width="40.2" height="1.8" fill="#787878" stroke="#474747" stroke-width="0.55" />
<rect x="463.5" y="161.8" width="3.5" height="3.8" fill="#6a6a6a" stroke="none" stroke-width="0.55" />
<rect x="538.5" y="161.8" width="3" height="3.8" fill="#6a6a6a" stroke="none" stroke-width="0.55" />
<line x1="454.4" y1="131" x2="454.4" y2="161" stroke="#b9b9b9" stroke-width="0.5" />
<line x1="464" y1="131" x2="464" y2="161" stroke="#b9b9b9" stroke-width="0.5" />
<line x1="450.5" y1="138" x2="464" y2="138" stroke="#b9b9b9" stroke-width="0.45" />
<path d="M464,138 a3.5,3.5 0 0 1 3.5,3.5" fill="none" stroke="#cfcfcf" stroke-width="0.4"/>
<line x1="450.5" y1="145.2" x2="464" y2="145.2" stroke="#b9b9b9" stroke-width="0.45" />
<path d="M464,145.2 a3.5,3.5 0 0 1 3.5,3.5" fill="none" stroke="#cfcfcf" stroke-width="0.4"/>
<line x1="450.5" y1="152.3" x2="464" y2="152.3" stroke="#b9b9b9" stroke-width="0.45" />
<path d="M464,152.3 a3.5,3.5 0 0 1 3.5,3.5" fill="none" stroke="#cfcfcf" stroke-width="0.4"/>
<line x1="530" y1="133" x2="530" y2="161" stroke="#b9b9b9" stroke-width="0.5" />
<line x1="540" y1="133" x2="540" y2="161" stroke="#b9b9b9" stroke-width="0.5" />
<line x1="530" y1="140" x2="547.7" y2="140" stroke="#b9b9b9" stroke-width="0.45" />
<path d="M530,140 a3.5,3.5 0 0 0 -3.5,3.5" fill="none" stroke="#cfcfcf" stroke-width="0.4"/>
<line x1="530" y1="147" x2="547.7" y2="147" stroke="#b9b9b9" stroke-width="0.45" />
<path d="M530,147 a3.5,3.5 0 0 0 -3.5,3.5" fill="none" stroke="#cfcfcf" stroke-width="0.4"/>
<line x1="530" y1="154" x2="547.7" y2="154" stroke="#b9b9b9" stroke-width="0.45" />
<path d="M530,154 a3.5,3.5 0 0 0 -3.5,3.5" fill="none" stroke="#cfcfcf" stroke-width="0.4"/>
<rect x="482" y="129" width="7" height="3.5" fill="#787878" stroke="#474747" stroke-width="0.55" />
<polyline points="512,129.6 518,129.6 518,135 514,135 514,144 512,144" fill="none" stroke="#474747" stroke-width="1.4" stroke-linejoin="miter" />
<polyline points="512,129.6 518,129.6 518,135 514,135 514,144 512,144" fill="none" stroke="#787878" stroke-width="0.3" stroke-linejoin="miter" />
<line x1="470" y1="72" x2="470" y2="88" stroke="#c8c8c8" stroke-width="0.45" />
<line x1="474" y1="72" x2="474" y2="88" stroke="#c8c8c8" stroke-width="0.45" />
<line x1="478" y1="72" x2="478" y2="88" stroke="#c8c8c8" stroke-width="0.45" />
<line x1="482" y1="72" x2="482" y2="88" stroke="#c8c8c8" stroke-width="0.45" />
<line x1="467.6" y1="80" x2="486" y2="80" stroke="#d0d0d0" stroke-width="0.4" />
<line x1="486.7" y1="72" x2="486.7" y2="88" stroke="#aaa" stroke-width="0.5" />
<rect x="227.6" y="51.3" width="13" height="19.3" fill="none" stroke="#aaa" stroke-width="0.5" />
<line x1="228" y1="53.5" x2="240" y2="53.5" stroke="#c8c8c8" stroke-width="0.4" />
<line x1="228" y1="55.5" x2="240" y2="55.5" stroke="#c8c8c8" stroke-width="0.4" />
<line x1="228" y1="57.5" x2="240" y2="57.5" stroke="#c8c8c8" stroke-width="0.4" />
<path d="M228,60 a8,8 0 0 1 8,8" fill="none" stroke="#c4c4c4" stroke-width="0.4"/>
<path d="M227.4,47.5 a7.5,7.5 0 0 1 -7.5,-7.5" fill="none" stroke="#c4c4c4" stroke-width="0.4"/>
<path d="M304,46 a6,6 0 0 1 -6,-6" fill="none" stroke="#c4c4c4" stroke-width="0.4"/>
<path d="M306,62 a8,8 0 0 1 8,8" fill="none" stroke="#c4c4c4" stroke-width="0.4"/>
<path d="M355,64 a7,7 0 0 1 7,7" fill="none" stroke="#c4c4c4" stroke-width="0.4"/>
<path d="M519,62 a7,7 0 0 1 7,7" fill="none" stroke="#c4c4c4" stroke-width="0.4"/>
<path d="M534,62 a7,7 0 0 0 -7,7" fill="none" stroke="#c4c4c4" stroke-width="0.4"/>
<path d="M519,100 a6,6 0 0 1 6,6" fill="none" stroke="#c4c4c4" stroke-width="0.4"/>
<path d="M466,113 a8,8 0 0 0 -8,8" fill="none" stroke="#c4c4c4" stroke-width="0.4"/>
<path d="M534,115 a7,7 0 0 0 -7,7" fill="none" stroke="#c4c4c4" stroke-width="0.4"/>
<line x1="240" y1="74.5" x2="247" y2="74.5" stroke="#cfcfcf" stroke-width="0.4" />
<line x1="240" y1="77" x2="247" y2="77" stroke="#cfcfcf" stroke-width="0.4" />
<line x1="240" y1="79.5" x2="247" y2="79.5" stroke="#cfcfcf" stroke-width="0.4" />
<line x1="240" y1="82" x2="247" y2="82" stroke="#cfcfcf" stroke-width="0.4" />
<line x1="240" y1="72" x2="240" y2="84.5" stroke="#c8c8c8" stroke-width="0.4" />
<line x1="247" y1="72" x2="247" y2="84.5" stroke="#c8c8c8" stroke-width="0.4" />
<rect x="481.5" y="136" width="3.5" height="3.2" fill="none" stroke="#999" stroke-width="0.5" />
<rect x="481.5" y="143" width="3.5" height="3.2" fill="none" stroke="#999" stroke-width="0.5" />
<rect x="481.5" y="150" width="3.5" height="3.2" fill="none" stroke="#999" stroke-width="0.5" />
<rect x="481.5" y="157" width="3.5" height="3.2" fill="none" stroke="#999" stroke-width="0.5" />
<rect x="514" y="141" width="3.5" height="3.2" fill="none" stroke="#999" stroke-width="0.5" />
<rect x="514" y="148" width="3.5" height="3.2" fill="none" stroke="#999" stroke-width="0.5" />
<rect x="514" y="155" width="3.5" height="3.2" fill="none" stroke="#999" stroke-width="0.5" />
<rect x="276.5" y="161.1" width="74" height="3.8" fill="#9a9a9a" stroke="#444" stroke-width="0.65" />
<rect x="276.5" y="160.2" width="6" height="5.6" fill="#666" stroke="#333" stroke-width="0.5" />
<rect x="324.6" y="160.2" width="5" height="5.6" fill="#666" stroke="#333" stroke-width="0.5" />
<rect x="364.6" y="161.1" width="124.4" height="3.8" fill="#9a9a9a" stroke="#444" stroke-width="0.65" />
<rect x="370" y="160.3" width="5" height="5.7" fill="#666" stroke="#333" stroke-width="0.5" />
<rect x="416.8" y="160.3" width="4.4" height="5.7" fill="#666" stroke="#333" stroke-width="0.5" />
<rect x="341.5" y="161.5" width="2" height="2" fill="#333" stroke="none" stroke-width="0.55" />
<line x1="327.7" y1="165.5" x2="327.7" y2="183.2" stroke="#777" stroke-width="0.6" />
<path d="M327.7,172 a6,6 0 0 1 6,6" fill="none" stroke="#bbb" stroke-width="0.4"/>
<path d="M362,165.5 a7,7 0 0 0 -7,7" fill="none" stroke="#bbb" stroke-width="0.4"/>
<line x1="386.8" y1="165.5" x2="382.3" y2="186" stroke="#888" stroke-width="0.5" />
<path d="M386.8,172 a7,7 0 0 1 5,8" fill="none" stroke="#c4c4c4" stroke-width="0.4"/>
<rect x="228.5" y="160" width="33" height="7.7" fill="none" stroke="#8a8a8a" stroke-width="0.7" />
<rect x="230.8" y="160.8" width="5.4" height="5.4" fill="#555" stroke="none" stroke-width="0.55" />
<rect x="416.3" y="70" width="2.3" height="93" fill="#8a8a8a" stroke="#444" stroke-width="0.5" />
<line x1="419" y1="116" x2="447.7" y2="116" stroke="#bbb" stroke-width="0.5" stroke-dasharray="1.2 1.4"/>
<line x1="419" y1="80.4" x2="447.7" y2="80.4" stroke="#bbb" stroke-width="0.5" stroke-dasharray="1.2 1.4"/>
<rect x="446.5" y="79.2" width="2.5" height="2.5" fill="#666" stroke="none" stroke-width="0.55" />
<rect x="417.5" y="79.5" width="2" height="2" fill="#666" stroke="none" stroke-width="0.55" />
<rect x="417.5" y="115" width="2" height="2" fill="#666" stroke="none" stroke-width="0.55" />
<rect x="417.5" y="152" width="2" height="2" fill="#666" stroke="none" stroke-width="0.55" />
<line x1="419" y1="153" x2="447.7" y2="153" stroke="#bbb" stroke-width="0.5" stroke-dasharray="1.2 1.4"/>
<rect x="446.5" y="114.8" width="2.5" height="2.5" fill="#666" stroke="none" stroke-width="0.55" />
<rect x="446.5" y="151.8" width="2.5" height="2.5" fill="#666" stroke="none" stroke-width="0.55" />
<line x1="382" y1="212.3" x2="509" y2="212.3" stroke="#bbb" stroke-width="0.5" stroke-dasharray="1.2 1.4"/>
<line x1="246.5" y1="72" x2="246.5" y2="205" stroke="#c6c6c6" stroke-width="0.5" />
<line x1="327.7" y1="72" x2="327.7" y2="175" stroke="#c6c6c6" stroke-width="0.5" />
<line x1="342.3" y1="72" x2="342.3" y2="161" stroke="#c6c6c6" stroke-width="0.5" />
<line x1="240" y1="73.5" x2="416" y2="73.5" stroke="#d0d0d0" stroke-width="0.5" />
<line x1="246.5" y1="152" x2="352" y2="152" stroke="#d0d0d0" stroke-width="0.5" />
<line x1="362" y1="150" x2="416" y2="150" stroke="#d0d0d0" stroke-width="0.5" />
<line x1="362" y1="156" x2="416" y2="156" stroke="#d0d0d0" stroke-width="0.5" />
<line x1="250" y1="77" x2="350" y2="77" stroke="#d8d8d8" stroke-width="0.5" />
<line x1="255.3" y1="83.8" x2="255.3" y2="149.5" stroke="#d6d6d6" stroke-width="0.45" />
<line x1="259.7" y1="83.8" x2="259.7" y2="149.5" stroke="#d6d6d6" stroke-width="0.45" />
<path d="M255.3,86.6 v-1.8 q0,-1 1,-1 h2.4 q1,0 1,1 v1.8" fill="none" stroke="#b8b8b8" stroke-width="0.45"/>
<line x1="256.1" y1="84.3" x2="258.9" y2="84.3" stroke="#858585" stroke-width="0.7" />
<path d="M255.3,90.7 v-1.8 q0,-1 1,-1 h2.4 q1,0 1,1 v1.8" fill="none" stroke="#b8b8b8" stroke-width="0.45"/>
<line x1="256.1" y1="88.4" x2="258.9" y2="88.4" stroke="#858585" stroke-width="0.7" />
<path d="M255.3,94.9 v-1.8 q0,-1 1,-1 h2.4 q1,0 1,1 v1.8" fill="none" stroke="#b8b8b8" stroke-width="0.45"/>
<line x1="256.1" y1="92.6" x2="258.9" y2="92.6" stroke="#858585" stroke-width="0.7" />
<path d="M255.3,99 v-1.8 q0,-1 1,-1 h2.4 q1,0 1,1 v1.8" fill="none" stroke="#b8b8b8" stroke-width="0.45"/>
<line x1="256.1" y1="96.7" x2="258.9" y2="96.7" stroke="#858585" stroke-width="0.7" />
<path d="M255.3,103.1 v-1.8 q0,-1 1,-1 h2.4 q1,0 1,1 v1.8" fill="none" stroke="#b8b8b8" stroke-width="0.45"/>
<line x1="256.1" y1="100.8" x2="258.9" y2="100.8" stroke="#858585" stroke-width="0.7" />
<path d="M255.3,107.2 v-1.8 q0,-1 1,-1 h2.4 q1,0 1,1 v1.8" fill="none" stroke="#b8b8b8" stroke-width="0.45"/>
<line x1="256.1" y1="104.9" x2="258.9" y2="104.9" stroke="#858585" stroke-width="0.7" />
<path d="M255.3,111.4 v-1.8 q0,-1 1,-1 h2.4 q1,0 1,1 v1.8" fill="none" stroke="#b8b8b8" stroke-width="0.45"/>
<line x1="256.1" y1="109.1" x2="258.9" y2="109.1" stroke="#858585" stroke-width="0.7" />
<path d="M255.3,115.5 v-1.8 q0,-1 1,-1 h2.4 q1,0 1,1 v1.8" fill="none" stroke="#b8b8b8" stroke-width="0.45"/>
<line x1="256.1" y1="113.2" x2="258.9" y2="113.2" stroke="#858585" stroke-width="0.7" />
<path d="M255.3,119.6 v-1.8 q0,-1 1,-1 h2.4 q1,0 1,1 v1.8" fill="none" stroke="#b8b8b8" stroke-width="0.45"/>
<line x1="256.1" y1="117.3" x2="258.9" y2="117.3" stroke="#858585" stroke-width="0.7" />
<path d="M255.3,123.8 v-1.8 q0,-1 1,-1 h2.4 q1,0 1,1 v1.8" fill="none" stroke="#b8b8b8" stroke-width="0.45"/>
<line x1="256.1" y1="121.5" x2="258.9" y2="121.5" stroke="#858585" stroke-width="0.7" />
<path d="M255.3,127.9 v-1.8 q0,-1 1,-1 h2.4 q1,0 1,1 v1.8" fill="none" stroke="#b8b8b8" stroke-width="0.45"/>
<line x1="256.1" y1="125.6" x2="258.9" y2="125.6" stroke="#858585" stroke-width="0.7" />
<path d="M255.3,132 v-1.8 q0,-1 1,-1 h2.4 q1,0 1,1 v1.8" fill="none" stroke="#b8b8b8" stroke-width="0.45"/>
<line x1="256.1" y1="129.7" x2="258.9" y2="129.7" stroke="#858585" stroke-width="0.7" />
<path d="M255.3,136.2 v-1.8 q0,-1 1,-1 h2.4 q1,0 1,1 v1.8" fill="none" stroke="#b8b8b8" stroke-width="0.45"/>
<line x1="256.1" y1="133.9" x2="258.9" y2="133.9" stroke="#858585" stroke-width="0.7" />
<path d="M255.3,140.3 v-1.8 q0,-1 1,-1 h2.4 q1,0 1,1 v1.8" fill="none" stroke="#b8b8b8" stroke-width="0.45"/>
<line x1="256.1" y1="138" x2="258.9" y2="138" stroke="#858585" stroke-width="0.7" />
<path d="M255.3,144.4 v-1.8 q0,-1 1,-1 h2.4 q1,0 1,1 v1.8" fill="none" stroke="#b8b8b8" stroke-width="0.45"/>
<line x1="256.1" y1="142.1" x2="258.9" y2="142.1" stroke="#858585" stroke-width="0.7" />
<path d="M255.3,148.6 v-1.8 q0,-1 1,-1 h2.4 q1,0 1,1 v1.8" fill="none" stroke="#b8b8b8" stroke-width="0.45"/>
<line x1="256.1" y1="146.2" x2="258.9" y2="146.2" stroke="#858585" stroke-width="0.7" />
<line x1="262.2" y1="83.8" x2="262.2" y2="149.5" stroke="#d6d6d6" stroke-width="0.45" />
<line x1="266.6" y1="83.8" x2="266.6" y2="149.5" stroke="#d6d6d6" stroke-width="0.45" />
<path d="M262.2,86.6 v-1.8 q0,-1 1,-1 h2.4 q1,0 1,1 v1.8" fill="none" stroke="#b8b8b8" stroke-width="0.45"/>
<line x1="263.1" y1="84.3" x2="265.9" y2="84.3" stroke="#5e5e5e" stroke-width="0.7" />
<path d="M262.2,90.7 v-1.8 q0,-1 1,-1 h2.4 q1,0 1,1 v1.8" fill="none" stroke="#b8b8b8" stroke-width="0.45"/>
<line x1="263.1" y1="88.4" x2="265.9" y2="88.4" stroke="#5e5e5e" stroke-width="0.7" />
<path d="M262.2,94.9 v-1.8 q0,-1 1,-1 h2.4 q1,0 1,1 v1.8" fill="none" stroke="#b8b8b8" stroke-width="0.45"/>
<line x1="263.1" y1="92.6" x2="265.9" y2="92.6" stroke="#5e5e5e" stroke-width="0.7" />
<path d="M262.2,99 v-1.8 q0,-1 1,-1 h2.4 q1,0 1,1 v1.8" fill="none" stroke="#b8b8b8" stroke-width="0.45"/>
<line x1="263.1" y1="96.7" x2="265.9" y2="96.7" stroke="#5e5e5e" stroke-width="0.7" />
<path d="M262.2,103.1 v-1.8 q0,-1 1,-1 h2.4 q1,0 1,1 v1.8" fill="none" stroke="#b8b8b8" stroke-width="0.45"/>
<line x1="263.1" y1="100.8" x2="265.9" y2="100.8" stroke="#5e5e5e" stroke-width="0.7" />
<path d="M262.2,107.2 v-1.8 q0,-1 1,-1 h2.4 q1,0 1,1 v1.8" fill="none" stroke="#b8b8b8" stroke-width="0.45"/>
<line x1="263.1" y1="104.9" x2="265.9" y2="104.9" stroke="#5e5e5e" stroke-width="0.7" />
<path d="M262.2,111.4 v-1.8 q0,-1 1,-1 h2.4 q1,0 1,1 v1.8" fill="none" stroke="#b8b8b8" stroke-width="0.45"/>
<line x1="263.1" y1="109.1" x2="265.9" y2="109.1" stroke="#5e5e5e" stroke-width="0.7" />
<path d="M262.2,115.5 v-1.8 q0,-1 1,-1 h2.4 q1,0 1,1 v1.8" fill="none" stroke="#b8b8b8" stroke-width="0.45"/>
<line x1="263.1" y1="113.2" x2="265.9" y2="113.2" stroke="#5e5e5e" stroke-width="0.7" />
<path d="M262.2,119.6 v-1.8 q0,-1 1,-1 h2.4 q1,0 1,1 v1.8" fill="none" stroke="#b8b8b8" stroke-width="0.45"/>
<line x1="263.1" y1="117.3" x2="265.9" y2="117.3" stroke="#5e5e5e" stroke-width="0.7" />
<path d="M262.2,123.8 v-1.8 q0,-1 1,-1 h2.4 q1,0 1,1 v1.8" fill="none" stroke="#b8b8b8" stroke-width="0.45"/>
<line x1="263.1" y1="121.5" x2="265.9" y2="121.5" stroke="#5e5e5e" stroke-width="0.7" />
<path d="M262.2,127.9 v-1.8 q0,-1 1,-1 h2.4 q1,0 1,1 v1.8" fill="none" stroke="#b8b8b8" stroke-width="0.45"/>
<line x1="263.1" y1="125.6" x2="265.9" y2="125.6" stroke="#5e5e5e" stroke-width="0.7" />
<path d="M262.2,132 v-1.8 q0,-1 1,-1 h2.4 q1,0 1,1 v1.8" fill="none" stroke="#b8b8b8" stroke-width="0.45"/>
<line x1="263.1" y1="129.7" x2="265.9" y2="129.7" stroke="#5e5e5e" stroke-width="0.7" />
<path d="M262.2,136.2 v-1.8 q0,-1 1,-1 h2.4 q1,0 1,1 v1.8" fill="none" stroke="#b8b8b8" stroke-width="0.45"/>
<line x1="263.1" y1="133.9" x2="265.9" y2="133.9" stroke="#5e5e5e" stroke-width="0.7" />
<path d="M262.2,140.3 v-1.8 q0,-1 1,-1 h2.4 q1,0 1,1 v1.8" fill="none" stroke="#b8b8b8" stroke-width="0.45"/>
<line x1="263.1" y1="138" x2="265.9" y2="138" stroke="#5e5e5e" stroke-width="0.7" />
<path d="M262.2,144.4 v-1.8 q0,-1 1,-1 h2.4 q1,0 1,1 v1.8" fill="none" stroke="#b8b8b8" stroke-width="0.45"/>
<line x1="263.1" y1="142.1" x2="265.9" y2="142.1" stroke="#5e5e5e" stroke-width="0.7" />
<path d="M262.2,148.6 v-1.8 q0,-1 1,-1 h2.4 q1,0 1,1 v1.8" fill="none" stroke="#b8b8b8" stroke-width="0.45"/>
<line x1="263.1" y1="146.2" x2="265.9" y2="146.2" stroke="#5e5e5e" stroke-width="0.7" />
<line x1="269.2" y1="83.8" x2="269.2" y2="149.5" stroke="#d6d6d6" stroke-width="0.45" />
<line x1="273.6" y1="83.8" x2="273.6" y2="149.5" stroke="#d6d6d6" stroke-width="0.45" />
<path d="M269.2,86.6 v-1.8 q0,-1 1,-1 h2.4 q1,0 1,1 v1.8" fill="none" stroke="#b8b8b8" stroke-width="0.45"/>
<line x1="270" y1="84.3" x2="272.8" y2="84.3" stroke="#5e5e5e" stroke-width="0.7" />
<path d="M269.2,90.7 v-1.8 q0,-1 1,-1 h2.4 q1,0 1,1 v1.8" fill="none" stroke="#b8b8b8" stroke-width="0.45"/>
<line x1="270" y1="88.4" x2="272.8" y2="88.4" stroke="#5e5e5e" stroke-width="0.7" />
<path d="M269.2,94.9 v-1.8 q0,-1 1,-1 h2.4 q1,0 1,1 v1.8" fill="none" stroke="#b8b8b8" stroke-width="0.45"/>
<line x1="270" y1="92.6" x2="272.8" y2="92.6" stroke="#5e5e5e" stroke-width="0.7" />
<path d="M269.2,99 v-1.8 q0,-1 1,-1 h2.4 q1,0 1,1 v1.8" fill="none" stroke="#b8b8b8" stroke-width="0.45"/>
<line x1="270" y1="96.7" x2="272.8" y2="96.7" stroke="#5e5e5e" stroke-width="0.7" />
<path d="M269.2,103.1 v-1.8 q0,-1 1,-1 h2.4 q1,0 1,1 v1.8" fill="none" stroke="#b8b8b8" stroke-width="0.45"/>
<line x1="270" y1="100.8" x2="272.8" y2="100.8" stroke="#5e5e5e" stroke-width="0.7" />
<path d="M269.2,107.2 v-1.8 q0,-1 1,-1 h2.4 q1,0 1,1 v1.8" fill="none" stroke="#b8b8b8" stroke-width="0.45"/>
<line x1="270" y1="104.9" x2="272.8" y2="104.9" stroke="#5e5e5e" stroke-width="0.7" />
<path d="M269.2,111.4 v-1.8 q0,-1 1,-1 h2.4 q1,0 1,1 v1.8" fill="none" stroke="#b8b8b8" stroke-width="0.45"/>
<line x1="270" y1="109.1" x2="272.8" y2="109.1" stroke="#5e5e5e" stroke-width="0.7" />
<path d="M269.2,115.5 v-1.8 q0,-1 1,-1 h2.4 q1,0 1,1 v1.8" fill="none" stroke="#b8b8b8" stroke-width="0.45"/>
<line x1="270" y1="113.2" x2="272.8" y2="113.2" stroke="#5e5e5e" stroke-width="0.7" />
<path d="M269.2,119.6 v-1.8 q0,-1 1,-1 h2.4 q1,0 1,1 v1.8" fill="none" stroke="#b8b8b8" stroke-width="0.45"/>
<line x1="270" y1="117.3" x2="272.8" y2="117.3" stroke="#5e5e5e" stroke-width="0.7" />
<path d="M269.2,123.8 v-1.8 q0,-1 1,-1 h2.4 q1,0 1,1 v1.8" fill="none" stroke="#b8b8b8" stroke-width="0.45"/>
<line x1="270" y1="121.5" x2="272.8" y2="121.5" stroke="#5e5e5e" stroke-width="0.7" />
<path d="M269.2,127.9 v-1.8 q0,-1 1,-1 h2.4 q1,0 1,1 v1.8" fill="none" stroke="#b8b8b8" stroke-width="0.45"/>
<line x1="270" y1="125.6" x2="272.8" y2="125.6" stroke="#5e5e5e" stroke-width="0.7" />
<path d="M269.2,132 v-1.8 q0,-1 1,-1 h2.4 q1,0 1,1 v1.8" fill="none" stroke="#b8b8b8" stroke-width="0.45"/>
<line x1="270" y1="129.7" x2="272.8" y2="129.7" stroke="#5e5e5e" stroke-width="0.7" />
<path d="M269.2,136.2 v-1.8 q0,-1 1,-1 h2.4 q1,0 1,1 v1.8" fill="none" stroke="#b8b8b8" stroke-width="0.45"/>
<line x1="270" y1="133.9" x2="272.8" y2="133.9" stroke="#5e5e5e" stroke-width="0.7" />
<path d="M269.2,140.3 v-1.8 q0,-1 1,-1 h2.4 q1,0 1,1 v1.8" fill="none" stroke="#b8b8b8" stroke-width="0.45"/>
<line x1="270" y1="138" x2="272.8" y2="138" stroke="#5e5e5e" stroke-width="0.7" />
<path d="M269.2,144.4 v-1.8 q0,-1 1,-1 h2.4 q1,0 1,1 v1.8" fill="none" stroke="#b8b8b8" stroke-width="0.45"/>
<line x1="270" y1="142.1" x2="272.8" y2="142.1" stroke="#5e5e5e" stroke-width="0.7" />
<path d="M269.2,148.6 v-1.8 q0,-1 1,-1 h2.4 q1,0 1,1 v1.8" fill="none" stroke="#b8b8b8" stroke-width="0.45"/>
<line x1="270" y1="146.2" x2="272.8" y2="146.2" stroke="#5e5e5e" stroke-width="0.7" />
<line x1="276.2" y1="83.8" x2="276.2" y2="149.5" stroke="#d6d6d6" stroke-width="0.45" />
<line x1="280.6" y1="83.8" x2="280.6" y2="149.5" stroke="#d6d6d6" stroke-width="0.45" />
<path d="M276.2,86.6 v-1.8 q0,-1 1,-1 h2.4 q1,0 1,1 v1.8" fill="none" stroke="#b8b8b8" stroke-width="0.45"/>
<line x1="277" y1="84.3" x2="279.8" y2="84.3" stroke="#858585" stroke-width="0.7" />
<path d="M276.2,90.7 v-1.8 q0,-1 1,-1 h2.4 q1,0 1,1 v1.8" fill="none" stroke="#b8b8b8" stroke-width="0.45"/>
<line x1="277" y1="88.4" x2="279.8" y2="88.4" stroke="#858585" stroke-width="0.7" />
<path d="M276.2,94.9 v-1.8 q0,-1 1,-1 h2.4 q1,0 1,1 v1.8" fill="none" stroke="#b8b8b8" stroke-width="0.45"/>
<line x1="277" y1="92.6" x2="279.8" y2="92.6" stroke="#858585" stroke-width="0.7" />
<path d="M276.2,99 v-1.8 q0,-1 1,-1 h2.4 q1,0 1,1 v1.8" fill="none" stroke="#b8b8b8" stroke-width="0.45"/>
<line x1="277" y1="96.7" x2="279.8" y2="96.7" stroke="#858585" stroke-width="0.7" />
<path d="M276.2,103.1 v-1.8 q0,-1 1,-1 h2.4 q1,0 1,1 v1.8" fill="none" stroke="#b8b8b8" stroke-width="0.45"/>
<line x1="277" y1="100.8" x2="279.8" y2="100.8" stroke="#858585" stroke-width="0.7" />
<path d="M276.2,107.2 v-1.8 q0,-1 1,-1 h2.4 q1,0 1,1 v1.8" fill="none" stroke="#b8b8b8" stroke-width="0.45"/>
<line x1="277" y1="104.9" x2="279.8" y2="104.9" stroke="#858585" stroke-width="0.7" />
<path d="M276.2,111.4 v-1.8 q0,-1 1,-1 h2.4 q1,0 1,1 v1.8" fill="none" stroke="#b8b8b8" stroke-width="0.45"/>
<line x1="277" y1="109.1" x2="279.8" y2="109.1" stroke="#858585" stroke-width="0.7" />
<path d="M276.2,115.5 v-1.8 q0,-1 1,-1 h2.4 q1,0 1,1 v1.8" fill="none" stroke="#b8b8b8" stroke-width="0.45"/>
<line x1="277" y1="113.2" x2="279.8" y2="113.2" stroke="#858585" stroke-width="0.7" />
<path d="M276.2,119.6 v-1.8 q0,-1 1,-1 h2.4 q1,0 1,1 v1.8" fill="none" stroke="#b8b8b8" stroke-width="0.45"/>
<line x1="277" y1="117.3" x2="279.8" y2="117.3" stroke="#858585" stroke-width="0.7" />
<path d="M276.2,123.8 v-1.8 q0,-1 1,-1 h2.4 q1,0 1,1 v1.8" fill="none" stroke="#b8b8b8" stroke-width="0.45"/>
<line x1="277" y1="121.5" x2="279.8" y2="121.5" stroke="#858585" stroke-width="0.7" />
<path d="M276.2,127.9 v-1.8 q0,-1 1,-1 h2.4 q1,0 1,1 v1.8" fill="none" stroke="#b8b8b8" stroke-width="0.45"/>
<line x1="277" y1="125.6" x2="279.8" y2="125.6" stroke="#858585" stroke-width="0.7" />
<path d="M276.2,132 v-1.8 q0,-1 1,-1 h2.4 q1,0 1,1 v1.8" fill="none" stroke="#b8b8b8" stroke-width="0.45"/>
<line x1="277" y1="129.7" x2="279.8" y2="129.7" stroke="#858585" stroke-width="0.7" />
<path d="M276.2,136.2 v-1.8 q0,-1 1,-1 h2.4 q1,0 1,1 v1.8" fill="none" stroke="#b8b8b8" stroke-width="0.45"/>
<line x1="277" y1="133.9" x2="279.8" y2="133.9" stroke="#858585" stroke-width="0.7" />
<path d="M276.2,140.3 v-1.8 q0,-1 1,-1 h2.4 q1,0 1,1 v1.8" fill="none" stroke="#b8b8b8" stroke-width="0.45"/>
<line x1="277" y1="138" x2="279.8" y2="138" stroke="#858585" stroke-width="0.7" />
<path d="M276.2,144.4 v-1.8 q0,-1 1,-1 h2.4 q1,0 1,1 v1.8" fill="none" stroke="#b8b8b8" stroke-width="0.45"/>
<line x1="277" y1="142.1" x2="279.8" y2="142.1" stroke="#858585" stroke-width="0.7" />
<path d="M276.2,148.6 v-1.8 q0,-1 1,-1 h2.4 q1,0 1,1 v1.8" fill="none" stroke="#b8b8b8" stroke-width="0.45"/>
<line x1="277" y1="146.2" x2="279.8" y2="146.2" stroke="#858585" stroke-width="0.7" />
<line x1="283.1" y1="83.8" x2="283.1" y2="149.5" stroke="#d6d6d6" stroke-width="0.45" />
<line x1="287.5" y1="83.8" x2="287.5" y2="149.5" stroke="#d6d6d6" stroke-width="0.45" />
<path d="M283.1,86.6 v-1.8 q0,-1 1,-1 h2.4 q1,0 1,1 v1.8" fill="none" stroke="#b8b8b8" stroke-width="0.45"/>
<line x1="283.9" y1="84.3" x2="286.7" y2="84.3" stroke="#858585" stroke-width="0.7" />
<path d="M283.1,90.7 v-1.8 q0,-1 1,-1 h2.4 q1,0 1,1 v1.8" fill="none" stroke="#b8b8b8" stroke-width="0.45"/>
<line x1="283.9" y1="88.4" x2="286.7" y2="88.4" stroke="#858585" stroke-width="0.7" />
<path d="M283.1,94.9 v-1.8 q0,-1 1,-1 h2.4 q1,0 1,1 v1.8" fill="none" stroke="#b8b8b8" stroke-width="0.45"/>
<line x1="283.9" y1="92.6" x2="286.7" y2="92.6" stroke="#858585" stroke-width="0.7" />
<path d="M283.1,99 v-1.8 q0,-1 1,-1 h2.4 q1,0 1,1 v1.8" fill="none" stroke="#b8b8b8" stroke-width="0.45"/>
<line x1="283.9" y1="96.7" x2="286.7" y2="96.7" stroke="#858585" stroke-width="0.7" />
<path d="M283.1,103.1 v-1.8 q0,-1 1,-1 h2.4 q1,0 1,1 v1.8" fill="none" stroke="#b8b8b8" stroke-width="0.45"/>
<line x1="283.9" y1="100.8" x2="286.7" y2="100.8" stroke="#858585" stroke-width="0.7" />
<path d="M283.1,107.2 v-1.8 q0,-1 1,-1 h2.4 q1,0 1,1 v1.8" fill="none" stroke="#b8b8b8" stroke-width="0.45"/>
<line x1="283.9" y1="104.9" x2="286.7" y2="104.9" stroke="#858585" stroke-width="0.7" />
<path d="M283.1,111.4 v-1.8 q0,-1 1,-1 h2.4 q1,0 1,1 v1.8" fill="none" stroke="#b8b8b8" stroke-width="0.45"/>
<line x1="283.9" y1="109.1" x2="286.7" y2="109.1" stroke="#858585" stroke-width="0.7" />
<path d="M283.1,115.5 v-1.8 q0,-1 1,-1 h2.4 q1,0 1,1 v1.8" fill="none" stroke="#b8b8b8" stroke-width="0.45"/>
<line x1="283.9" y1="113.2" x2="286.7" y2="113.2" stroke="#858585" stroke-width="0.7" />
<path d="M283.1,119.6 v-1.8 q0,-1 1,-1 h2.4 q1,0 1,1 v1.8" fill="none" stroke="#b8b8b8" stroke-width="0.45"/>
<line x1="283.9" y1="117.3" x2="286.7" y2="117.3" stroke="#858585" stroke-width="0.7" />
<path d="M283.1,123.8 v-1.8 q0,-1 1,-1 h2.4 q1,0 1,1 v1.8" fill="none" stroke="#b8b8b8" stroke-width="0.45"/>
<line x1="283.9" y1="121.5" x2="286.7" y2="121.5" stroke="#858585" stroke-width="0.7" />
<path d="M283.1,127.9 v-1.8 q0,-1 1,-1 h2.4 q1,0 1,1 v1.8" fill="none" stroke="#b8b8b8" stroke-width="0.45"/>
<line x1="283.9" y1="125.6" x2="286.7" y2="125.6" stroke="#858585" stroke-width="0.7" />
<path d="M283.1,132 v-1.8 q0,-1 1,-1 h2.4 q1,0 1,1 v1.8" fill="none" stroke="#b8b8b8" stroke-width="0.45"/>
<line x1="283.9" y1="129.7" x2="286.7" y2="129.7" stroke="#858585" stroke-width="0.7" />
<path d="M283.1,136.2 v-1.8 q0,-1 1,-1 h2.4 q1,0 1,1 v1.8" fill="none" stroke="#b8b8b8" stroke-width="0.45"/>
<line x1="283.9" y1="133.9" x2="286.7" y2="133.9" stroke="#858585" stroke-width="0.7" />
<path d="M283.1,140.3 v-1.8 q0,-1 1,-1 h2.4 q1,0 1,1 v1.8" fill="none" stroke="#b8b8b8" stroke-width="0.45"/>
<line x1="283.9" y1="138" x2="286.7" y2="138" stroke="#858585" stroke-width="0.7" />
<path d="M283.1,144.4 v-1.8 q0,-1 1,-1 h2.4 q1,0 1,1 v1.8" fill="none" stroke="#b8b8b8" stroke-width="0.45"/>
<line x1="283.9" y1="142.1" x2="286.7" y2="142.1" stroke="#858585" stroke-width="0.7" />
<path d="M283.1,148.6 v-1.8 q0,-1 1,-1 h2.4 q1,0 1,1 v1.8" fill="none" stroke="#b8b8b8" stroke-width="0.45"/>
<line x1="283.9" y1="146.2" x2="286.7" y2="146.2" stroke="#858585" stroke-width="0.7" />
<line x1="290.1" y1="83.8" x2="290.1" y2="149.5" stroke="#d6d6d6" stroke-width="0.45" />
<line x1="294.4" y1="83.8" x2="294.4" y2="149.5" stroke="#d6d6d6" stroke-width="0.45" />
<path d="M290.1,86.6 v-1.8 q0,-1 1,-1 h2.4 q1,0 1,1 v1.8" fill="none" stroke="#b8b8b8" stroke-width="0.45"/>
<line x1="290.9" y1="84.3" x2="293.7" y2="84.3" stroke="#858585" stroke-width="0.7" />
<path d="M290.1,90.7 v-1.8 q0,-1 1,-1 h2.4 q1,0 1,1 v1.8" fill="none" stroke="#b8b8b8" stroke-width="0.45"/>
<line x1="290.9" y1="88.4" x2="293.7" y2="88.4" stroke="#858585" stroke-width="0.7" />
<path d="M290.1,94.9 v-1.8 q0,-1 1,-1 h2.4 q1,0 1,1 v1.8" fill="none" stroke="#b8b8b8" stroke-width="0.45"/>
<line x1="290.9" y1="92.6" x2="293.7" y2="92.6" stroke="#858585" stroke-width="0.7" />
<path d="M290.1,99 v-1.8 q0,-1 1,-1 h2.4 q1,0 1,1 v1.8" fill="none" stroke="#b8b8b8" stroke-width="0.45"/>
<line x1="290.9" y1="96.7" x2="293.7" y2="96.7" stroke="#858585" stroke-width="0.7" />
<path d="M290.1,103.1 v-1.8 q0,-1 1,-1 h2.4 q1,0 1,1 v1.8" fill="none" stroke="#b8b8b8" stroke-width="0.45"/>
<line x1="290.9" y1="100.8" x2="293.7" y2="100.8" stroke="#858585" stroke-width="0.7" />
<path d="M290.1,107.2 v-1.8 q0,-1 1,-1 h2.4 q1,0 1,1 v1.8" fill="none" stroke="#b8b8b8" stroke-width="0.45"/>
<line x1="290.9" y1="104.9" x2="293.7" y2="104.9" stroke="#858585" stroke-width="0.7" />
<path d="M290.1,111.4 v-1.8 q0,-1 1,-1 h2.4 q1,0 1,1 v1.8" fill="none" stroke="#b8b8b8" stroke-width="0.45"/>
<line x1="290.9" y1="109.1" x2="293.7" y2="109.1" stroke="#858585" stroke-width="0.7" />
<path d="M290.1,115.5 v-1.8 q0,-1 1,-1 h2.4 q1,0 1,1 v1.8" fill="none" stroke="#b8b8b8" stroke-width="0.45"/>
<line x1="290.9" y1="113.2" x2="293.7" y2="113.2" stroke="#858585" stroke-width="0.7" />
<path d="M290.1,119.6 v-1.8 q0,-1 1,-1 h2.4 q1,0 1,1 v1.8" fill="none" stroke="#b8b8b8" stroke-width="0.45"/>
<line x1="290.9" y1="117.3" x2="293.7" y2="117.3" stroke="#858585" stroke-width="0.7" />
<path d="M290.1,123.8 v-1.8 q0,-1 1,-1 h2.4 q1,0 1,1 v1.8" fill="none" stroke="#b8b8b8" stroke-width="0.45"/>
<line x1="290.9" y1="121.5" x2="293.7" y2="121.5" stroke="#858585" stroke-width="0.7" />
<path d="M290.1,127.9 v-1.8 q0,-1 1,-1 h2.4 q1,0 1,1 v1.8" fill="none" stroke="#b8b8b8" stroke-width="0.45"/>
<line x1="290.9" y1="125.6" x2="293.7" y2="125.6" stroke="#858585" stroke-width="0.7" />
<path d="M290.1,132 v-1.8 q0,-1 1,-1 h2.4 q1,0 1,1 v1.8" fill="none" stroke="#b8b8b8" stroke-width="0.45"/>
<line x1="290.9" y1="129.7" x2="293.7" y2="129.7" stroke="#858585" stroke-width="0.7" />
<path d="M290.1,136.2 v-1.8 q0,-1 1,-1 h2.4 q1,0 1,1 v1.8" fill="none" stroke="#b8b8b8" stroke-width="0.45"/>
<line x1="290.9" y1="133.9" x2="293.7" y2="133.9" stroke="#858585" stroke-width="0.7" />
<path d="M290.1,140.3 v-1.8 q0,-1 1,-1 h2.4 q1,0 1,1 v1.8" fill="none" stroke="#b8b8b8" stroke-width="0.45"/>
<line x1="290.9" y1="138" x2="293.7" y2="138" stroke="#858585" stroke-width="0.7" />
<path d="M290.1,144.4 v-1.8 q0,-1 1,-1 h2.4 q1,0 1,1 v1.8" fill="none" stroke="#b8b8b8" stroke-width="0.45"/>
<line x1="290.9" y1="142.1" x2="293.7" y2="142.1" stroke="#858585" stroke-width="0.7" />
<path d="M290.1,148.6 v-1.8 q0,-1 1,-1 h2.4 q1,0 1,1 v1.8" fill="none" stroke="#b8b8b8" stroke-width="0.45"/>
<line x1="290.9" y1="146.2" x2="293.7" y2="146.2" stroke="#858585" stroke-width="0.7" />
<line x1="297" y1="83.8" x2="297" y2="149.5" stroke="#d6d6d6" stroke-width="0.45" />
<line x1="301.4" y1="83.8" x2="301.4" y2="149.5" stroke="#d6d6d6" stroke-width="0.45" />
<path d="M297,86.6 v-1.8 q0,-1 1,-1 h2.4 q1,0 1,1 v1.8" fill="none" stroke="#b8b8b8" stroke-width="0.45"/>
<line x1="297.8" y1="84.3" x2="300.6" y2="84.3" stroke="#858585" stroke-width="0.7" />
<path d="M297,90.7 v-1.8 q0,-1 1,-1 h2.4 q1,0 1,1 v1.8" fill="none" stroke="#b8b8b8" stroke-width="0.45"/>
<line x1="297.8" y1="88.4" x2="300.6" y2="88.4" stroke="#858585" stroke-width="0.7" />
<path d="M297,94.9 v-1.8 q0,-1 1,-1 h2.4 q1,0 1,1 v1.8" fill="none" stroke="#b8b8b8" stroke-width="0.45"/>
<line x1="297.8" y1="92.6" x2="300.6" y2="92.6" stroke="#858585" stroke-width="0.7" />
<path d="M297,99 v-1.8 q0,-1 1,-1 h2.4 q1,0 1,1 v1.8" fill="none" stroke="#b8b8b8" stroke-width="0.45"/>
<line x1="297.8" y1="96.7" x2="300.6" y2="96.7" stroke="#858585" stroke-width="0.7" />
<path d="M297,103.1 v-1.8 q0,-1 1,-1 h2.4 q1,0 1,1 v1.8" fill="none" stroke="#b8b8b8" stroke-width="0.45"/>
<line x1="297.8" y1="100.8" x2="300.6" y2="100.8" stroke="#858585" stroke-width="0.7" />
<path d="M297,107.2 v-1.8 q0,-1 1,-1 h2.4 q1,0 1,1 v1.8" fill="none" stroke="#b8b8b8" stroke-width="0.45"/>
<line x1="297.8" y1="104.9" x2="300.6" y2="104.9" stroke="#858585" stroke-width="0.7" />
<path d="M297,111.4 v-1.8 q0,-1 1,-1 h2.4 q1,0 1,1 v1.8" fill="none" stroke="#b8b8b8" stroke-width="0.45"/>
<line x1="297.8" y1="109.1" x2="300.6" y2="109.1" stroke="#858585" stroke-width="0.7" />
<path d="M297,115.5 v-1.8 q0,-1 1,-1 h2.4 q1,0 1,1 v1.8" fill="none" stroke="#b8b8b8" stroke-width="0.45"/>
<line x1="297.8" y1="113.2" x2="300.6" y2="113.2" stroke="#858585" stroke-width="0.7" />
<path d="M297,119.6 v-1.8 q0,-1 1,-1 h2.4 q1,0 1,1 v1.8" fill="none" stroke="#b8b8b8" stroke-width="0.45"/>
<line x1="297.8" y1="117.3" x2="300.6" y2="117.3" stroke="#858585" stroke-width="0.7" />
<path d="M297,123.8 v-1.8 q0,-1 1,-1 h2.4 q1,0 1,1 v1.8" fill="none" stroke="#b8b8b8" stroke-width="0.45"/>
<line x1="297.8" y1="121.5" x2="300.6" y2="121.5" stroke="#858585" stroke-width="0.7" />
<path d="M297,127.9 v-1.8 q0,-1 1,-1 h2.4 q1,0 1,1 v1.8" fill="none" stroke="#b8b8b8" stroke-width="0.45"/>
<line x1="297.8" y1="125.6" x2="300.6" y2="125.6" stroke="#858585" stroke-width="0.7" />
<path d="M297,132 v-1.8 q0,-1 1,-1 h2.4 q1,0 1,1 v1.8" fill="none" stroke="#b8b8b8" stroke-width="0.45"/>
<line x1="297.8" y1="129.7" x2="300.6" y2="129.7" stroke="#858585" stroke-width="0.7" />
<path d="M297,136.2 v-1.8 q0,-1 1,-1 h2.4 q1,0 1,1 v1.8" fill="none" stroke="#b8b8b8" stroke-width="0.45"/>
<line x1="297.8" y1="133.9" x2="300.6" y2="133.9" stroke="#858585" stroke-width="0.7" />
<path d="M297,140.3 v-1.8 q0,-1 1,-1 h2.4 q1,0 1,1 v1.8" fill="none" stroke="#b8b8b8" stroke-width="0.45"/>
<line x1="297.8" y1="138" x2="300.6" y2="138" stroke="#858585" stroke-width="0.7" />
<path d="M297,144.4 v-1.8 q0,-1 1,-1 h2.4 q1,0 1,1 v1.8" fill="none" stroke="#b8b8b8" stroke-width="0.45"/>
<line x1="297.8" y1="142.1" x2="300.6" y2="142.1" stroke="#858585" stroke-width="0.7" />
<path d="M297,148.6 v-1.8 q0,-1 1,-1 h2.4 q1,0 1,1 v1.8" fill="none" stroke="#b8b8b8" stroke-width="0.45"/>
<line x1="297.8" y1="146.2" x2="300.6" y2="146.2" stroke="#858585" stroke-width="0.7" />
<line x1="303.9" y1="83.8" x2="303.9" y2="149.5" stroke="#d6d6d6" stroke-width="0.45" />
<line x1="308.3" y1="83.8" x2="308.3" y2="149.5" stroke="#d6d6d6" stroke-width="0.45" />
<path d="M303.9,86.6 v-1.8 q0,-1 1,-1 h2.4 q1,0 1,1 v1.8" fill="none" stroke="#b8b8b8" stroke-width="0.45"/>
<line x1="304.8" y1="84.3" x2="307.6" y2="84.3" stroke="#858585" stroke-width="0.7" />
<path d="M303.9,90.7 v-1.8 q0,-1 1,-1 h2.4 q1,0 1,1 v1.8" fill="none" stroke="#b8b8b8" stroke-width="0.45"/>
<line x1="304.8" y1="88.4" x2="307.6" y2="88.4" stroke="#858585" stroke-width="0.7" />
<path d="M303.9,94.9 v-1.8 q0,-1 1,-1 h2.4 q1,0 1,1 v1.8" fill="none" stroke="#b8b8b8" stroke-width="0.45"/>
<line x1="304.8" y1="92.6" x2="307.6" y2="92.6" stroke="#858585" stroke-width="0.7" />
<path d="M303.9,99 v-1.8 q0,-1 1,-1 h2.4 q1,0 1,1 v1.8" fill="none" stroke="#b8b8b8" stroke-width="0.45"/>
<line x1="304.8" y1="96.7" x2="307.6" y2="96.7" stroke="#858585" stroke-width="0.7" />
<path d="M303.9,103.1 v-1.8 q0,-1 1,-1 h2.4 q1,0 1,1 v1.8" fill="none" stroke="#b8b8b8" stroke-width="0.45"/>
<line x1="304.8" y1="100.8" x2="307.6" y2="100.8" stroke="#858585" stroke-width="0.7" />
<path d="M303.9,107.2 v-1.8 q0,-1 1,-1 h2.4 q1,0 1,1 v1.8" fill="none" stroke="#b8b8b8" stroke-width="0.45"/>
<line x1="304.8" y1="104.9" x2="307.6" y2="104.9" stroke="#858585" stroke-width="0.7" />
<path d="M303.9,111.4 v-1.8 q0,-1 1,-1 h2.4 q1,0 1,1 v1.8" fill="none" stroke="#b8b8b8" stroke-width="0.45"/>
<line x1="304.8" y1="109.1" x2="307.6" y2="109.1" stroke="#858585" stroke-width="0.7" />
<path d="M303.9,115.5 v-1.8 q0,-1 1,-1 h2.4 q1,0 1,1 v1.8" fill="none" stroke="#b8b8b8" stroke-width="0.45"/>
<line x1="304.8" y1="113.2" x2="307.6" y2="113.2" stroke="#858585" stroke-width="0.7" />
<path d="M303.9,119.6 v-1.8 q0,-1 1,-1 h2.4 q1,0 1,1 v1.8" fill="none" stroke="#b8b8b8" stroke-width="0.45"/>
<line x1="304.8" y1="117.3" x2="307.6" y2="117.3" stroke="#858585" stroke-width="0.7" />
<path d="M303.9,123.8 v-1.8 q0,-1 1,-1 h2.4 q1,0 1,1 v1.8" fill="none" stroke="#b8b8b8" stroke-width="0.45"/>
<line x1="304.8" y1="121.5" x2="307.6" y2="121.5" stroke="#858585" stroke-width="0.7" />
<path d="M303.9,127.9 v-1.8 q0,-1 1,-1 h2.4 q1,0 1,1 v1.8" fill="none" stroke="#b8b8b8" stroke-width="0.45"/>
<line x1="304.8" y1="125.6" x2="307.6" y2="125.6" stroke="#858585" stroke-width="0.7" />
<path d="M303.9,132 v-1.8 q0,-1 1,-1 h2.4 q1,0 1,1 v1.8" fill="none" stroke="#b8b8b8" stroke-width="0.45"/>
<line x1="304.8" y1="129.7" x2="307.6" y2="129.7" stroke="#858585" stroke-width="0.7" />
<path d="M303.9,136.2 v-1.8 q0,-1 1,-1 h2.4 q1,0 1,1 v1.8" fill="none" stroke="#b8b8b8" stroke-width="0.45"/>
<line x1="304.8" y1="133.9" x2="307.6" y2="133.9" stroke="#858585" stroke-width="0.7" />
<path d="M303.9,140.3 v-1.8 q0,-1 1,-1 h2.4 q1,0 1,1 v1.8" fill="none" stroke="#b8b8b8" stroke-width="0.45"/>
<line x1="304.8" y1="138" x2="307.6" y2="138" stroke="#858585" stroke-width="0.7" />
<path d="M303.9,144.4 v-1.8 q0,-1 1,-1 h2.4 q1,0 1,1 v1.8" fill="none" stroke="#b8b8b8" stroke-width="0.45"/>
<line x1="304.8" y1="142.1" x2="307.6" y2="142.1" stroke="#858585" stroke-width="0.7" />
<path d="M303.9,148.6 v-1.8 q0,-1 1,-1 h2.4 q1,0 1,1 v1.8" fill="none" stroke="#b8b8b8" stroke-width="0.45"/>
<line x1="304.8" y1="146.2" x2="307.6" y2="146.2" stroke="#858585" stroke-width="0.7" />
<line x1="310.9" y1="83.8" x2="310.9" y2="149.5" stroke="#d6d6d6" stroke-width="0.45" />
<line x1="315.3" y1="83.8" x2="315.3" y2="149.5" stroke="#d6d6d6" stroke-width="0.45" />
<path d="M310.9,86.6 v-1.8 q0,-1 1,-1 h2.4 q1,0 1,1 v1.8" fill="none" stroke="#b8b8b8" stroke-width="0.45"/>
<line x1="311.7" y1="84.3" x2="314.5" y2="84.3" stroke="#858585" stroke-width="0.7" />
<path d="M310.9,90.7 v-1.8 q0,-1 1,-1 h2.4 q1,0 1,1 v1.8" fill="none" stroke="#b8b8b8" stroke-width="0.45"/>
<line x1="311.7" y1="88.4" x2="314.5" y2="88.4" stroke="#858585" stroke-width="0.7" />
<path d="M310.9,94.9 v-1.8 q0,-1 1,-1 h2.4 q1,0 1,1 v1.8" fill="none" stroke="#b8b8b8" stroke-width="0.45"/>
<line x1="311.7" y1="92.6" x2="314.5" y2="92.6" stroke="#858585" stroke-width="0.7" />
<path d="M310.9,99 v-1.8 q0,-1 1,-1 h2.4 q1,0 1,1 v1.8" fill="none" stroke="#b8b8b8" stroke-width="0.45"/>
<line x1="311.7" y1="96.7" x2="314.5" y2="96.7" stroke="#858585" stroke-width="0.7" />
<path d="M310.9,103.1 v-1.8 q0,-1 1,-1 h2.4 q1,0 1,1 v1.8" fill="none" stroke="#b8b8b8" stroke-width="0.45"/>
<line x1="311.7" y1="100.8" x2="314.5" y2="100.8" stroke="#858585" stroke-width="0.7" />
<path d="M310.9,107.2 v-1.8 q0,-1 1,-1 h2.4 q1,0 1,1 v1.8" fill="none" stroke="#b8b8b8" stroke-width="0.45"/>
<line x1="311.7" y1="104.9" x2="314.5" y2="104.9" stroke="#858585" stroke-width="0.7" />
<path d="M310.9,111.4 v-1.8 q0,-1 1,-1 h2.4 q1,0 1,1 v1.8" fill="none" stroke="#b8b8b8" stroke-width="0.45"/>
<line x1="311.7" y1="109.1" x2="314.5" y2="109.1" stroke="#858585" stroke-width="0.7" />
<path d="M310.9,115.5 v-1.8 q0,-1 1,-1 h2.4 q1,0 1,1 v1.8" fill="none" stroke="#b8b8b8" stroke-width="0.45"/>
<line x1="311.7" y1="113.2" x2="314.5" y2="113.2" stroke="#858585" stroke-width="0.7" />
<path d="M310.9,119.6 v-1.8 q0,-1 1,-1 h2.4 q1,0 1,1 v1.8" fill="none" stroke="#b8b8b8" stroke-width="0.45"/>
<line x1="311.7" y1="117.3" x2="314.5" y2="117.3" stroke="#858585" stroke-width="0.7" />
<path d="M310.9,123.8 v-1.8 q0,-1 1,-1 h2.4 q1,0 1,1 v1.8" fill="none" stroke="#b8b8b8" stroke-width="0.45"/>
<line x1="311.7" y1="121.5" x2="314.5" y2="121.5" stroke="#858585" stroke-width="0.7" />
<path d="M310.9,127.9 v-1.8 q0,-1 1,-1 h2.4 q1,0 1,1 v1.8" fill="none" stroke="#b8b8b8" stroke-width="0.45"/>
<line x1="311.7" y1="125.6" x2="314.5" y2="125.6" stroke="#858585" stroke-width="0.7" />
<path d="M310.9,132 v-1.8 q0,-1 1,-1 h2.4 q1,0 1,1 v1.8" fill="none" stroke="#b8b8b8" stroke-width="0.45"/>
<line x1="311.7" y1="129.7" x2="314.5" y2="129.7" stroke="#858585" stroke-width="0.7" />
<path d="M310.9,136.2 v-1.8 q0,-1 1,-1 h2.4 q1,0 1,1 v1.8" fill="none" stroke="#b8b8b8" stroke-width="0.45"/>
<line x1="311.7" y1="133.9" x2="314.5" y2="133.9" stroke="#858585" stroke-width="0.7" />
<path d="M310.9,140.3 v-1.8 q0,-1 1,-1 h2.4 q1,0 1,1 v1.8" fill="none" stroke="#b8b8b8" stroke-width="0.45"/>
<line x1="311.7" y1="138" x2="314.5" y2="138" stroke="#858585" stroke-width="0.7" />
<path d="M310.9,144.4 v-1.8 q0,-1 1,-1 h2.4 q1,0 1,1 v1.8" fill="none" stroke="#b8b8b8" stroke-width="0.45"/>
<line x1="311.7" y1="142.1" x2="314.5" y2="142.1" stroke="#858585" stroke-width="0.7" />
<path d="M310.9,148.6 v-1.8 q0,-1 1,-1 h2.4 q1,0 1,1 v1.8" fill="none" stroke="#b8b8b8" stroke-width="0.45"/>
<line x1="311.7" y1="146.2" x2="314.5" y2="146.2" stroke="#858585" stroke-width="0.7" />
<line x1="317.9" y1="83.8" x2="317.9" y2="149.5" stroke="#d6d6d6" stroke-width="0.45" />
<line x1="322.2" y1="83.8" x2="322.2" y2="149.5" stroke="#d6d6d6" stroke-width="0.45" />
<path d="M317.9,86.6 v-1.8 q0,-1 1,-1 h2.4 q1,0 1,1 v1.8" fill="none" stroke="#b8b8b8" stroke-width="0.45"/>
<line x1="318.7" y1="84.3" x2="321.5" y2="84.3" stroke="#858585" stroke-width="0.7" />
<path d="M317.9,90.7 v-1.8 q0,-1 1,-1 h2.4 q1,0 1,1 v1.8" fill="none" stroke="#b8b8b8" stroke-width="0.45"/>
<line x1="318.7" y1="88.4" x2="321.5" y2="88.4" stroke="#858585" stroke-width="0.7" />
<path d="M317.9,94.9 v-1.8 q0,-1 1,-1 h2.4 q1,0 1,1 v1.8" fill="none" stroke="#b8b8b8" stroke-width="0.45"/>
<line x1="318.7" y1="92.6" x2="321.5" y2="92.6" stroke="#858585" stroke-width="0.7" />
<path d="M317.9,99 v-1.8 q0,-1 1,-1 h2.4 q1,0 1,1 v1.8" fill="none" stroke="#b8b8b8" stroke-width="0.45"/>
<line x1="318.7" y1="96.7" x2="321.5" y2="96.7" stroke="#858585" stroke-width="0.7" />
<path d="M317.9,103.1 v-1.8 q0,-1 1,-1 h2.4 q1,0 1,1 v1.8" fill="none" stroke="#b8b8b8" stroke-width="0.45"/>
<line x1="318.7" y1="100.8" x2="321.5" y2="100.8" stroke="#858585" stroke-width="0.7" />
<path d="M317.9,107.2 v-1.8 q0,-1 1,-1 h2.4 q1,0 1,1 v1.8" fill="none" stroke="#b8b8b8" stroke-width="0.45"/>
<line x1="318.7" y1="104.9" x2="321.5" y2="104.9" stroke="#858585" stroke-width="0.7" />
<path d="M317.9,111.4 v-1.8 q0,-1 1,-1 h2.4 q1,0 1,1 v1.8" fill="none" stroke="#b8b8b8" stroke-width="0.45"/>
<line x1="318.7" y1="109.1" x2="321.5" y2="109.1" stroke="#858585" stroke-width="0.7" />
<path d="M317.9,115.5 v-1.8 q0,-1 1,-1 h2.4 q1,0 1,1 v1.8" fill="none" stroke="#b8b8b8" stroke-width="0.45"/>
<line x1="318.7" y1="113.2" x2="321.5" y2="113.2" stroke="#858585" stroke-width="0.7" />
<path d="M317.9,119.6 v-1.8 q0,-1 1,-1 h2.4 q1,0 1,1 v1.8" fill="none" stroke="#b8b8b8" stroke-width="0.45"/>
<line x1="318.7" y1="117.3" x2="321.5" y2="117.3" stroke="#858585" stroke-width="0.7" />
<path d="M317.9,123.8 v-1.8 q0,-1 1,-1 h2.4 q1,0 1,1 v1.8" fill="none" stroke="#b8b8b8" stroke-width="0.45"/>
<line x1="318.7" y1="121.5" x2="321.5" y2="121.5" stroke="#858585" stroke-width="0.7" />
<path d="M317.9,127.9 v-1.8 q0,-1 1,-1 h2.4 q1,0 1,1 v1.8" fill="none" stroke="#b8b8b8" stroke-width="0.45"/>
<line x1="318.7" y1="125.6" x2="321.5" y2="125.6" stroke="#858585" stroke-width="0.7" />
<path d="M317.9,132 v-1.8 q0,-1 1,-1 h2.4 q1,0 1,1 v1.8" fill="none" stroke="#b8b8b8" stroke-width="0.45"/>
<line x1="318.7" y1="129.7" x2="321.5" y2="129.7" stroke="#858585" stroke-width="0.7" />
<path d="M317.9,136.2 v-1.8 q0,-1 1,-1 h2.4 q1,0 1,1 v1.8" fill="none" stroke="#b8b8b8" stroke-width="0.45"/>
<line x1="318.7" y1="133.9" x2="321.5" y2="133.9" stroke="#858585" stroke-width="0.7" />
<path d="M317.9,140.3 v-1.8 q0,-1 1,-1 h2.4 q1,0 1,1 v1.8" fill="none" stroke="#b8b8b8" stroke-width="0.45"/>
<line x1="318.7" y1="138" x2="321.5" y2="138" stroke="#858585" stroke-width="0.7" />
<path d="M317.9,144.4 v-1.8 q0,-1 1,-1 h2.4 q1,0 1,1 v1.8" fill="none" stroke="#b8b8b8" stroke-width="0.45"/>
<line x1="318.7" y1="142.1" x2="321.5" y2="142.1" stroke="#858585" stroke-width="0.7" />
<path d="M317.9,148.6 v-1.8 q0,-1 1,-1 h2.4 q1,0 1,1 v1.8" fill="none" stroke="#b8b8b8" stroke-width="0.45"/>
<line x1="318.7" y1="146.2" x2="321.5" y2="146.2" stroke="#858585" stroke-width="0.7" />
<line x1="324.8" y1="83.8" x2="324.8" y2="149.5" stroke="#d6d6d6" stroke-width="0.45" />
<line x1="329.2" y1="83.8" x2="329.2" y2="149.5" stroke="#d6d6d6" stroke-width="0.45" />
<path d="M324.8,86.6 v-1.8 q0,-1 1,-1 h2.4 q1,0 1,1 v1.8" fill="none" stroke="#b8b8b8" stroke-width="0.45"/>
<line x1="325.6" y1="84.3" x2="328.4" y2="84.3" stroke="#858585" stroke-width="0.7" />
<path d="M324.8,90.7 v-1.8 q0,-1 1,-1 h2.4 q1,0 1,1 v1.8" fill="none" stroke="#b8b8b8" stroke-width="0.45"/>
<line x1="325.6" y1="88.4" x2="328.4" y2="88.4" stroke="#858585" stroke-width="0.7" />
<path d="M324.8,94.9 v-1.8 q0,-1 1,-1 h2.4 q1,0 1,1 v1.8" fill="none" stroke="#b8b8b8" stroke-width="0.45"/>
<line x1="325.6" y1="92.6" x2="328.4" y2="92.6" stroke="#858585" stroke-width="0.7" />
<path d="M324.8,99 v-1.8 q0,-1 1,-1 h2.4 q1,0 1,1 v1.8" fill="none" stroke="#b8b8b8" stroke-width="0.45"/>
<line x1="325.6" y1="96.7" x2="328.4" y2="96.7" stroke="#858585" stroke-width="0.7" />
<path d="M324.8,103.1 v-1.8 q0,-1 1,-1 h2.4 q1,0 1,1 v1.8" fill="none" stroke="#b8b8b8" stroke-width="0.45"/>
<line x1="325.6" y1="100.8" x2="328.4" y2="100.8" stroke="#858585" stroke-width="0.7" />
<path d="M324.8,107.2 v-1.8 q0,-1 1,-1 h2.4 q1,0 1,1 v1.8" fill="none" stroke="#b8b8b8" stroke-width="0.45"/>
<line x1="325.6" y1="104.9" x2="328.4" y2="104.9" stroke="#858585" stroke-width="0.7" />
<path d="M324.8,111.4 v-1.8 q0,-1 1,-1 h2.4 q1,0 1,1 v1.8" fill="none" stroke="#b8b8b8" stroke-width="0.45"/>
<line x1="325.6" y1="109.1" x2="328.4" y2="109.1" stroke="#858585" stroke-width="0.7" />
<path d="M324.8,115.5 v-1.8 q0,-1 1,-1 h2.4 q1,0 1,1 v1.8" fill="none" stroke="#b8b8b8" stroke-width="0.45"/>
<line x1="325.6" y1="113.2" x2="328.4" y2="113.2" stroke="#858585" stroke-width="0.7" />
<path d="M324.8,119.6 v-1.8 q0,-1 1,-1 h2.4 q1,0 1,1 v1.8" fill="none" stroke="#b8b8b8" stroke-width="0.45"/>
<line x1="325.6" y1="117.3" x2="328.4" y2="117.3" stroke="#858585" stroke-width="0.7" />
<path d="M324.8,123.8 v-1.8 q0,-1 1,-1 h2.4 q1,0 1,1 v1.8" fill="none" stroke="#b8b8b8" stroke-width="0.45"/>
<line x1="325.6" y1="121.5" x2="328.4" y2="121.5" stroke="#858585" stroke-width="0.7" />
<path d="M324.8,127.9 v-1.8 q0,-1 1,-1 h2.4 q1,0 1,1 v1.8" fill="none" stroke="#b8b8b8" stroke-width="0.45"/>
<line x1="325.6" y1="125.6" x2="328.4" y2="125.6" stroke="#858585" stroke-width="0.7" />
<path d="M324.8,132 v-1.8 q0,-1 1,-1 h2.4 q1,0 1,1 v1.8" fill="none" stroke="#b8b8b8" stroke-width="0.45"/>
<line x1="325.6" y1="129.7" x2="328.4" y2="129.7" stroke="#858585" stroke-width="0.7" />
<path d="M324.8,136.2 v-1.8 q0,-1 1,-1 h2.4 q1,0 1,1 v1.8" fill="none" stroke="#b8b8b8" stroke-width="0.45"/>
<line x1="325.6" y1="133.9" x2="328.4" y2="133.9" stroke="#858585" stroke-width="0.7" />
<path d="M324.8,140.3 v-1.8 q0,-1 1,-1 h2.4 q1,0 1,1 v1.8" fill="none" stroke="#b8b8b8" stroke-width="0.45"/>
<line x1="325.6" y1="138" x2="328.4" y2="138" stroke="#858585" stroke-width="0.7" />
<path d="M324.8,144.4 v-1.8 q0,-1 1,-1 h2.4 q1,0 1,1 v1.8" fill="none" stroke="#b8b8b8" stroke-width="0.45"/>
<line x1="325.6" y1="142.1" x2="328.4" y2="142.1" stroke="#858585" stroke-width="0.7" />
<path d="M324.8,148.6 v-1.8 q0,-1 1,-1 h2.4 q1,0 1,1 v1.8" fill="none" stroke="#b8b8b8" stroke-width="0.45"/>
<line x1="325.6" y1="146.2" x2="328.4" y2="146.2" stroke="#858585" stroke-width="0.7" />
<line x1="331.8" y1="83.8" x2="331.8" y2="149.5" stroke="#d6d6d6" stroke-width="0.45" />
<line x1="336.1" y1="83.8" x2="336.1" y2="149.5" stroke="#d6d6d6" stroke-width="0.45" />
<path d="M331.8,86.6 v-1.8 q0,-1 1,-1 h2.4 q1,0 1,1 v1.8" fill="none" stroke="#b8b8b8" stroke-width="0.45"/>
<line x1="332.6" y1="84.3" x2="335.4" y2="84.3" stroke="#858585" stroke-width="0.7" />
<path d="M331.8,90.7 v-1.8 q0,-1 1,-1 h2.4 q1,0 1,1 v1.8" fill="none" stroke="#b8b8b8" stroke-width="0.45"/>
<line x1="332.6" y1="88.4" x2="335.4" y2="88.4" stroke="#858585" stroke-width="0.7" />
<path d="M331.8,94.9 v-1.8 q0,-1 1,-1 h2.4 q1,0 1,1 v1.8" fill="none" stroke="#b8b8b8" stroke-width="0.45"/>
<line x1="332.6" y1="92.6" x2="335.4" y2="92.6" stroke="#858585" stroke-width="0.7" />
<path d="M331.8,99 v-1.8 q0,-1 1,-1 h2.4 q1,0 1,1 v1.8" fill="none" stroke="#b8b8b8" stroke-width="0.45"/>
<line x1="332.6" y1="96.7" x2="335.4" y2="96.7" stroke="#858585" stroke-width="0.7" />
<path d="M331.8,103.1 v-1.8 q0,-1 1,-1 h2.4 q1,0 1,1 v1.8" fill="none" stroke="#b8b8b8" stroke-width="0.45"/>
<line x1="332.6" y1="100.8" x2="335.4" y2="100.8" stroke="#858585" stroke-width="0.7" />
<path d="M331.8,107.2 v-1.8 q0,-1 1,-1 h2.4 q1,0 1,1 v1.8" fill="none" stroke="#b8b8b8" stroke-width="0.45"/>
<line x1="332.6" y1="104.9" x2="335.4" y2="104.9" stroke="#858585" stroke-width="0.7" />
<path d="M331.8,111.4 v-1.8 q0,-1 1,-1 h2.4 q1,0 1,1 v1.8" fill="none" stroke="#b8b8b8" stroke-width="0.45"/>
<line x1="332.6" y1="109.1" x2="335.4" y2="109.1" stroke="#858585" stroke-width="0.7" />
<path d="M331.8,115.5 v-1.8 q0,-1 1,-1 h2.4 q1,0 1,1 v1.8" fill="none" stroke="#b8b8b8" stroke-width="0.45"/>
<line x1="332.6" y1="113.2" x2="335.4" y2="113.2" stroke="#858585" stroke-width="0.7" />
<path d="M331.8,119.6 v-1.8 q0,-1 1,-1 h2.4 q1,0 1,1 v1.8" fill="none" stroke="#b8b8b8" stroke-width="0.45"/>
<line x1="332.6" y1="117.3" x2="335.4" y2="117.3" stroke="#858585" stroke-width="0.7" />
<path d="M331.8,123.8 v-1.8 q0,-1 1,-1 h2.4 q1,0 1,1 v1.8" fill="none" stroke="#b8b8b8" stroke-width="0.45"/>
<line x1="332.6" y1="121.5" x2="335.4" y2="121.5" stroke="#858585" stroke-width="0.7" />
<path d="M331.8,127.9 v-1.8 q0,-1 1,-1 h2.4 q1,0 1,1 v1.8" fill="none" stroke="#b8b8b8" stroke-width="0.45"/>
<line x1="332.6" y1="125.6" x2="335.4" y2="125.6" stroke="#858585" stroke-width="0.7" />
<path d="M331.8,132 v-1.8 q0,-1 1,-1 h2.4 q1,0 1,1 v1.8" fill="none" stroke="#b8b8b8" stroke-width="0.45"/>
<line x1="332.6" y1="129.7" x2="335.4" y2="129.7" stroke="#858585" stroke-width="0.7" />
<path d="M331.8,136.2 v-1.8 q0,-1 1,-1 h2.4 q1,0 1,1 v1.8" fill="none" stroke="#b8b8b8" stroke-width="0.45"/>
<line x1="332.6" y1="133.9" x2="335.4" y2="133.9" stroke="#858585" stroke-width="0.7" />
<path d="M331.8,140.3 v-1.8 q0,-1 1,-1 h2.4 q1,0 1,1 v1.8" fill="none" stroke="#b8b8b8" stroke-width="0.45"/>
<line x1="332.6" y1="138" x2="335.4" y2="138" stroke="#858585" stroke-width="0.7" />
<path d="M331.8,144.4 v-1.8 q0,-1 1,-1 h2.4 q1,0 1,1 v1.8" fill="none" stroke="#b8b8b8" stroke-width="0.45"/>
<line x1="332.6" y1="142.1" x2="335.4" y2="142.1" stroke="#858585" stroke-width="0.7" />
<path d="M331.8,148.6 v-1.8 q0,-1 1,-1 h2.4 q1,0 1,1 v1.8" fill="none" stroke="#b8b8b8" stroke-width="0.45"/>
<line x1="332.6" y1="146.2" x2="335.4" y2="146.2" stroke="#858585" stroke-width="0.7" />
<line x1="338.7" y1="83.8" x2="338.7" y2="149.5" stroke="#d6d6d6" stroke-width="0.45" />
<line x1="343.1" y1="83.8" x2="343.1" y2="149.5" stroke="#d6d6d6" stroke-width="0.45" />
<path d="M338.7,86.6 v-1.8 q0,-1 1,-1 h2.4 q1,0 1,1 v1.8" fill="none" stroke="#b8b8b8" stroke-width="0.45"/>
<line x1="339.5" y1="84.3" x2="342.3" y2="84.3" stroke="#858585" stroke-width="0.7" />
<path d="M338.7,90.7 v-1.8 q0,-1 1,-1 h2.4 q1,0 1,1 v1.8" fill="none" stroke="#b8b8b8" stroke-width="0.45"/>
<line x1="339.5" y1="88.4" x2="342.3" y2="88.4" stroke="#858585" stroke-width="0.7" />
<path d="M338.7,94.9 v-1.8 q0,-1 1,-1 h2.4 q1,0 1,1 v1.8" fill="none" stroke="#b8b8b8" stroke-width="0.45"/>
<line x1="339.5" y1="92.6" x2="342.3" y2="92.6" stroke="#858585" stroke-width="0.7" />
<path d="M338.7,99 v-1.8 q0,-1 1,-1 h2.4 q1,0 1,1 v1.8" fill="none" stroke="#b8b8b8" stroke-width="0.45"/>
<line x1="339.5" y1="96.7" x2="342.3" y2="96.7" stroke="#858585" stroke-width="0.7" />
<path d="M338.7,103.1 v-1.8 q0,-1 1,-1 h2.4 q1,0 1,1 v1.8" fill="none" stroke="#b8b8b8" stroke-width="0.45"/>
<line x1="339.5" y1="100.8" x2="342.3" y2="100.8" stroke="#858585" stroke-width="0.7" />
<path d="M338.7,107.2 v-1.8 q0,-1 1,-1 h2.4 q1,0 1,1 v1.8" fill="none" stroke="#b8b8b8" stroke-width="0.45"/>
<line x1="339.5" y1="104.9" x2="342.3" y2="104.9" stroke="#858585" stroke-width="0.7" />
<path d="M338.7,111.4 v-1.8 q0,-1 1,-1 h2.4 q1,0 1,1 v1.8" fill="none" stroke="#b8b8b8" stroke-width="0.45"/>
<line x1="339.5" y1="109.1" x2="342.3" y2="109.1" stroke="#858585" stroke-width="0.7" />
<path d="M338.7,115.5 v-1.8 q0,-1 1,-1 h2.4 q1,0 1,1 v1.8" fill="none" stroke="#b8b8b8" stroke-width="0.45"/>
<line x1="339.5" y1="113.2" x2="342.3" y2="113.2" stroke="#858585" stroke-width="0.7" />
<path d="M338.7,119.6 v-1.8 q0,-1 1,-1 h2.4 q1,0 1,1 v1.8" fill="none" stroke="#b8b8b8" stroke-width="0.45"/>
<line x1="339.5" y1="117.3" x2="342.3" y2="117.3" stroke="#858585" stroke-width="0.7" />
<path d="M338.7,123.8 v-1.8 q0,-1 1,-1 h2.4 q1,0 1,1 v1.8" fill="none" stroke="#b8b8b8" stroke-width="0.45"/>
<line x1="339.5" y1="121.5" x2="342.3" y2="121.5" stroke="#858585" stroke-width="0.7" />
<path d="M338.7,127.9 v-1.8 q0,-1 1,-1 h2.4 q1,0 1,1 v1.8" fill="none" stroke="#b8b8b8" stroke-width="0.45"/>
<line x1="339.5" y1="125.6" x2="342.3" y2="125.6" stroke="#858585" stroke-width="0.7" />
<path d="M338.7,132 v-1.8 q0,-1 1,-1 h2.4 q1,0 1,1 v1.8" fill="none" stroke="#b8b8b8" stroke-width="0.45"/>
<line x1="339.5" y1="129.7" x2="342.3" y2="129.7" stroke="#858585" stroke-width="0.7" />
<path d="M338.7,136.2 v-1.8 q0,-1 1,-1 h2.4 q1,0 1,1 v1.8" fill="none" stroke="#b8b8b8" stroke-width="0.45"/>
<line x1="339.5" y1="133.9" x2="342.3" y2="133.9" stroke="#858585" stroke-width="0.7" />
<path d="M338.7,140.3 v-1.8 q0,-1 1,-1 h2.4 q1,0 1,1 v1.8" fill="none" stroke="#b8b8b8" stroke-width="0.45"/>
<line x1="339.5" y1="138" x2="342.3" y2="138" stroke="#858585" stroke-width="0.7" />
<path d="M338.7,144.4 v-1.8 q0,-1 1,-1 h2.4 q1,0 1,1 v1.8" fill="none" stroke="#b8b8b8" stroke-width="0.45"/>
<line x1="339.5" y1="142.1" x2="342.3" y2="142.1" stroke="#858585" stroke-width="0.7" />
<path d="M338.7,148.6 v-1.8 q0,-1 1,-1 h2.4 q1,0 1,1 v1.8" fill="none" stroke="#b8b8b8" stroke-width="0.45"/>
<line x1="339.5" y1="146.2" x2="342.3" y2="146.2" stroke="#858585" stroke-width="0.7" />
<line x1="345.7" y1="83.8" x2="345.7" y2="149.5" stroke="#d6d6d6" stroke-width="0.45" />
<line x1="350.1" y1="83.8" x2="350.1" y2="149.5" stroke="#d6d6d6" stroke-width="0.45" />
<path d="M345.7,86.6 v-1.8 q0,-1 1,-1 h2.4 q1,0 1,1 v1.8" fill="none" stroke="#b8b8b8" stroke-width="0.45"/>
<line x1="346.5" y1="84.3" x2="349.3" y2="84.3" stroke="#858585" stroke-width="0.7" />
<path d="M345.7,90.7 v-1.8 q0,-1 1,-1 h2.4 q1,0 1,1 v1.8" fill="none" stroke="#b8b8b8" stroke-width="0.45"/>
<line x1="346.5" y1="88.4" x2="349.3" y2="88.4" stroke="#858585" stroke-width="0.7" />
<path d="M345.7,94.9 v-1.8 q0,-1 1,-1 h2.4 q1,0 1,1 v1.8" fill="none" stroke="#b8b8b8" stroke-width="0.45"/>
<line x1="346.5" y1="92.6" x2="349.3" y2="92.6" stroke="#858585" stroke-width="0.7" />
<path d="M345.7,99 v-1.8 q0,-1 1,-1 h2.4 q1,0 1,1 v1.8" fill="none" stroke="#b8b8b8" stroke-width="0.45"/>
<line x1="346.5" y1="96.7" x2="349.3" y2="96.7" stroke="#858585" stroke-width="0.7" />
<path d="M345.7,103.1 v-1.8 q0,-1 1,-1 h2.4 q1,0 1,1 v1.8" fill="none" stroke="#b8b8b8" stroke-width="0.45"/>
<line x1="346.5" y1="100.8" x2="349.3" y2="100.8" stroke="#858585" stroke-width="0.7" />
<path d="M345.7,107.2 v-1.8 q0,-1 1,-1 h2.4 q1,0 1,1 v1.8" fill="none" stroke="#b8b8b8" stroke-width="0.45"/>
<line x1="346.5" y1="104.9" x2="349.3" y2="104.9" stroke="#858585" stroke-width="0.7" />
<path d="M345.7,111.4 v-1.8 q0,-1 1,-1 h2.4 q1,0 1,1 v1.8" fill="none" stroke="#b8b8b8" stroke-width="0.45"/>
<line x1="346.5" y1="109.1" x2="349.3" y2="109.1" stroke="#858585" stroke-width="0.7" />
<path d="M345.7,115.5 v-1.8 q0,-1 1,-1 h2.4 q1,0 1,1 v1.8" fill="none" stroke="#b8b8b8" stroke-width="0.45"/>
<line x1="346.5" y1="113.2" x2="349.3" y2="113.2" stroke="#858585" stroke-width="0.7" />
<path d="M345.7,119.6 v-1.8 q0,-1 1,-1 h2.4 q1,0 1,1 v1.8" fill="none" stroke="#b8b8b8" stroke-width="0.45"/>
<line x1="346.5" y1="117.3" x2="349.3" y2="117.3" stroke="#858585" stroke-width="0.7" />
<path d="M345.7,123.8 v-1.8 q0,-1 1,-1 h2.4 q1,0 1,1 v1.8" fill="none" stroke="#b8b8b8" stroke-width="0.45"/>
<line x1="346.5" y1="121.5" x2="349.3" y2="121.5" stroke="#858585" stroke-width="0.7" />
<path d="M345.7,127.9 v-1.8 q0,-1 1,-1 h2.4 q1,0 1,1 v1.8" fill="none" stroke="#b8b8b8" stroke-width="0.45"/>
<line x1="346.5" y1="125.6" x2="349.3" y2="125.6" stroke="#858585" stroke-width="0.7" />
<path d="M345.7,132 v-1.8 q0,-1 1,-1 h2.4 q1,0 1,1 v1.8" fill="none" stroke="#b8b8b8" stroke-width="0.45"/>
<line x1="346.5" y1="129.7" x2="349.3" y2="129.7" stroke="#858585" stroke-width="0.7" />
<path d="M345.7,136.2 v-1.8 q0,-1 1,-1 h2.4 q1,0 1,1 v1.8" fill="none" stroke="#b8b8b8" stroke-width="0.45"/>
<line x1="346.5" y1="133.9" x2="349.3" y2="133.9" stroke="#858585" stroke-width="0.7" />
<path d="M345.7,140.3 v-1.8 q0,-1 1,-1 h2.4 q1,0 1,1 v1.8" fill="none" stroke="#b8b8b8" stroke-width="0.45"/>
<line x1="346.5" y1="138" x2="349.3" y2="138" stroke="#858585" stroke-width="0.7" />
<path d="M345.7,144.4 v-1.8 q0,-1 1,-1 h2.4 q1,0 1,1 v1.8" fill="none" stroke="#b8b8b8" stroke-width="0.45"/>
<line x1="346.5" y1="142.1" x2="349.3" y2="142.1" stroke="#858585" stroke-width="0.7" />
<path d="M345.7,148.6 v-1.8 q0,-1 1,-1 h2.4 q1,0 1,1 v1.8" fill="none" stroke="#b8b8b8" stroke-width="0.45"/>
<line x1="346.5" y1="146.2" x2="349.3" y2="146.2" stroke="#858585" stroke-width="0.7" />
<line x1="246.9" y1="100.4" x2="253" y2="100.4" stroke="#c8c8c8" stroke-width="0.4" />
<line x1="246.9" y1="117" x2="253" y2="117" stroke="#c8c8c8" stroke-width="0.4" />
<line x1="246.9" y1="133.7" x2="253" y2="133.7" stroke="#c8c8c8" stroke-width="0.4" />
<line x1="261.6" y1="74.9" x2="320" y2="74.9" stroke="#d0d0d0" stroke-width="0.4" />
<line x1="261.6" y1="158" x2="320" y2="158" stroke="#d0d0d0" stroke-width="0.4" />
<rect x="373.4" y="84" width="1.2" height="63.5" fill="#6a6a6a" stroke="none" stroke-width="0.55" />
<line x1="370.2" y1="85" x2="374" y2="85" stroke="#999" stroke-width="0.5" />
<line x1="370.2" y1="85" x2="370.2" y2="87.8" stroke="#bbb" stroke-width="0.4" />
<line x1="370.2" y1="89.1" x2="374" y2="89.1" stroke="#999" stroke-width="0.5" />
<line x1="370.2" y1="89.1" x2="370.2" y2="91.9" stroke="#bbb" stroke-width="0.4" />
<line x1="370.2" y1="93.2" x2="374" y2="93.2" stroke="#999" stroke-width="0.5" />
<line x1="370.2" y1="93.2" x2="370.2" y2="96" stroke="#bbb" stroke-width="0.4" />
<line x1="370.2" y1="97.3" x2="374" y2="97.3" stroke="#999" stroke-width="0.5" />
<line x1="370.2" y1="97.3" x2="370.2" y2="100.1" stroke="#bbb" stroke-width="0.4" />
<line x1="370.2" y1="101.4" x2="374" y2="101.4" stroke="#999" stroke-width="0.5" />
<line x1="370.2" y1="101.4" x2="370.2" y2="104.2" stroke="#bbb" stroke-width="0.4" />
<line x1="370.2" y1="105.5" x2="374" y2="105.5" stroke="#999" stroke-width="0.5" />
<line x1="370.2" y1="105.5" x2="370.2" y2="108.3" stroke="#bbb" stroke-width="0.4" />
<line x1="370.2" y1="109.6" x2="374" y2="109.6" stroke="#999" stroke-width="0.5" />
<line x1="370.2" y1="109.6" x2="370.2" y2="112.4" stroke="#bbb" stroke-width="0.4" />
<line x1="370.2" y1="113.7" x2="374" y2="113.7" stroke="#999" stroke-width="0.5" />
<line x1="370.2" y1="113.7" x2="370.2" y2="116.5" stroke="#bbb" stroke-width="0.4" />
<line x1="370.2" y1="117.8" x2="374" y2="117.8" stroke="#999" stroke-width="0.5" />
<line x1="370.2" y1="117.8" x2="370.2" y2="120.6" stroke="#bbb" stroke-width="0.4" />
<line x1="370.2" y1="121.9" x2="374" y2="121.9" stroke="#999" stroke-width="0.5" />
<line x1="370.2" y1="121.9" x2="370.2" y2="124.7" stroke="#bbb" stroke-width="0.4" />
<line x1="370.2" y1="126" x2="374" y2="126" stroke="#999" stroke-width="0.5" />
<line x1="370.2" y1="126" x2="370.2" y2="128.8" stroke="#bbb" stroke-width="0.4" />
<line x1="370.2" y1="130.1" x2="374" y2="130.1" stroke="#999" stroke-width="0.5" />
<line x1="370.2" y1="130.1" x2="370.2" y2="132.9" stroke="#bbb" stroke-width="0.4" />
<line x1="370.2" y1="134.2" x2="374" y2="134.2" stroke="#999" stroke-width="0.5" />
<line x1="370.2" y1="134.2" x2="370.2" y2="137" stroke="#bbb" stroke-width="0.4" />
<line x1="370.2" y1="138.3" x2="374" y2="138.3" stroke="#999" stroke-width="0.5" />
<line x1="370.2" y1="138.3" x2="370.2" y2="141.1" stroke="#bbb" stroke-width="0.4" />
<line x1="370.2" y1="142.4" x2="374" y2="142.4" stroke="#999" stroke-width="0.5" />
<line x1="370.2" y1="142.4" x2="370.2" y2="145.2" stroke="#bbb" stroke-width="0.4" />
<line x1="370.2" y1="146.5" x2="374" y2="146.5" stroke="#999" stroke-width="0.5" />
<line x1="370.2" y1="146.5" x2="370.2" y2="149.3" stroke="#bbb" stroke-width="0.4" />
<rect x="380.2" y="84" width="1.2" height="63.5" fill="#6a6a6a" stroke="none" stroke-width="0.55" />
<line x1="377.1" y1="85" x2="380.9" y2="85" stroke="#999" stroke-width="0.5" />
<line x1="377.1" y1="85" x2="377.1" y2="87.8" stroke="#bbb" stroke-width="0.4" />
<line x1="377.1" y1="89.1" x2="380.9" y2="89.1" stroke="#999" stroke-width="0.5" />
<line x1="377.1" y1="89.1" x2="377.1" y2="91.9" stroke="#bbb" stroke-width="0.4" />
<line x1="377.1" y1="93.2" x2="380.9" y2="93.2" stroke="#999" stroke-width="0.5" />
<line x1="377.1" y1="93.2" x2="377.1" y2="96" stroke="#bbb" stroke-width="0.4" />
<line x1="377.1" y1="97.3" x2="380.9" y2="97.3" stroke="#999" stroke-width="0.5" />
<line x1="377.1" y1="97.3" x2="377.1" y2="100.1" stroke="#bbb" stroke-width="0.4" />
<line x1="377.1" y1="101.4" x2="380.9" y2="101.4" stroke="#999" stroke-width="0.5" />
<line x1="377.1" y1="101.4" x2="377.1" y2="104.2" stroke="#bbb" stroke-width="0.4" />
<line x1="377.1" y1="105.5" x2="380.9" y2="105.5" stroke="#999" stroke-width="0.5" />
<line x1="377.1" y1="105.5" x2="377.1" y2="108.3" stroke="#bbb" stroke-width="0.4" />
<line x1="377.1" y1="109.6" x2="380.9" y2="109.6" stroke="#999" stroke-width="0.5" />
<line x1="377.1" y1="109.6" x2="377.1" y2="112.4" stroke="#bbb" stroke-width="0.4" />
<line x1="377.1" y1="113.7" x2="380.9" y2="113.7" stroke="#999" stroke-width="0.5" />
<line x1="377.1" y1="113.7" x2="377.1" y2="116.5" stroke="#bbb" stroke-width="0.4" />
<line x1="377.1" y1="117.8" x2="380.9" y2="117.8" stroke="#999" stroke-width="0.5" />
<line x1="377.1" y1="117.8" x2="377.1" y2="120.6" stroke="#bbb" stroke-width="0.4" />
<line x1="377.1" y1="121.9" x2="380.9" y2="121.9" stroke="#999" stroke-width="0.5" />
<line x1="377.1" y1="121.9" x2="377.1" y2="124.7" stroke="#bbb" stroke-width="0.4" />
<line x1="377.1" y1="126" x2="380.9" y2="126" stroke="#999" stroke-width="0.5" />
<line x1="377.1" y1="126" x2="377.1" y2="128.8" stroke="#bbb" stroke-width="0.4" />
<line x1="377.1" y1="130.1" x2="380.9" y2="130.1" stroke="#999" stroke-width="0.5" />
<line x1="377.1" y1="130.1" x2="377.1" y2="132.9" stroke="#bbb" stroke-width="0.4" />
<line x1="377.1" y1="134.2" x2="380.9" y2="134.2" stroke="#999" stroke-width="0.5" />
<line x1="377.1" y1="134.2" x2="377.1" y2="137" stroke="#bbb" stroke-width="0.4" />
<line x1="377.1" y1="138.3" x2="380.9" y2="138.3" stroke="#999" stroke-width="0.5" />
<line x1="377.1" y1="138.3" x2="377.1" y2="141.1" stroke="#bbb" stroke-width="0.4" />
<line x1="377.1" y1="142.4" x2="380.9" y2="142.4" stroke="#999" stroke-width="0.5" />
<line x1="377.1" y1="142.4" x2="377.1" y2="145.2" stroke="#bbb" stroke-width="0.4" />
<line x1="377.1" y1="146.5" x2="380.9" y2="146.5" stroke="#999" stroke-width="0.5" />
<line x1="377.1" y1="146.5" x2="377.1" y2="149.3" stroke="#bbb" stroke-width="0.4" />
<rect x="387.1" y="84" width="1.2" height="63.5" fill="#6a6a6a" stroke="none" stroke-width="0.55" />
<line x1="383.9" y1="85" x2="387.7" y2="85" stroke="#999" stroke-width="0.5" />
<line x1="383.9" y1="85" x2="383.9" y2="87.8" stroke="#bbb" stroke-width="0.4" />
<line x1="383.9" y1="89.1" x2="387.7" y2="89.1" stroke="#999" stroke-width="0.5" />
<line x1="383.9" y1="89.1" x2="383.9" y2="91.9" stroke="#bbb" stroke-width="0.4" />
<line x1="383.9" y1="93.2" x2="387.7" y2="93.2" stroke="#999" stroke-width="0.5" />
<line x1="383.9" y1="93.2" x2="383.9" y2="96" stroke="#bbb" stroke-width="0.4" />
<line x1="383.9" y1="97.3" x2="387.7" y2="97.3" stroke="#999" stroke-width="0.5" />
<line x1="383.9" y1="97.3" x2="383.9" y2="100.1" stroke="#bbb" stroke-width="0.4" />
<line x1="383.9" y1="101.4" x2="387.7" y2="101.4" stroke="#999" stroke-width="0.5" />
<line x1="383.9" y1="101.4" x2="383.9" y2="104.2" stroke="#bbb" stroke-width="0.4" />
<line x1="383.9" y1="105.5" x2="387.7" y2="105.5" stroke="#999" stroke-width="0.5" />
<line x1="383.9" y1="105.5" x2="383.9" y2="108.3" stroke="#bbb" stroke-width="0.4" />
<line x1="383.9" y1="109.6" x2="387.7" y2="109.6" stroke="#999" stroke-width="0.5" />
<line x1="383.9" y1="109.6" x2="383.9" y2="112.4" stroke="#bbb" stroke-width="0.4" />
<line x1="383.9" y1="113.7" x2="387.7" y2="113.7" stroke="#999" stroke-width="0.5" />
<line x1="383.9" y1="113.7" x2="383.9" y2="116.5" stroke="#bbb" stroke-width="0.4" />
<line x1="383.9" y1="117.8" x2="387.7" y2="117.8" stroke="#999" stroke-width="0.5" />
<line x1="383.9" y1="117.8" x2="383.9" y2="120.6" stroke="#bbb" stroke-width="0.4" />
<line x1="383.9" y1="121.9" x2="387.7" y2="121.9" stroke="#999" stroke-width="0.5" />
<line x1="383.9" y1="121.9" x2="383.9" y2="124.7" stroke="#bbb" stroke-width="0.4" />
<line x1="383.9" y1="126" x2="387.7" y2="126" stroke="#999" stroke-width="0.5" />
<line x1="383.9" y1="126" x2="383.9" y2="128.8" stroke="#bbb" stroke-width="0.4" />
<line x1="383.9" y1="130.1" x2="387.7" y2="130.1" stroke="#999" stroke-width="0.5" />
<line x1="383.9" y1="130.1" x2="383.9" y2="132.9" stroke="#bbb" stroke-width="0.4" />
<line x1="383.9" y1="134.2" x2="387.7" y2="134.2" stroke="#999" stroke-width="0.5" />
<line x1="383.9" y1="134.2" x2="383.9" y2="137" stroke="#bbb" stroke-width="0.4" />
<line x1="383.9" y1="138.3" x2="387.7" y2="138.3" stroke="#999" stroke-width="0.5" />
<line x1="383.9" y1="138.3" x2="383.9" y2="141.1" stroke="#bbb" stroke-width="0.4" />
<line x1="383.9" y1="142.4" x2="387.7" y2="142.4" stroke="#999" stroke-width="0.5" />
<line x1="383.9" y1="142.4" x2="383.9" y2="145.2" stroke="#bbb" stroke-width="0.4" />
<line x1="383.9" y1="146.5" x2="387.7" y2="146.5" stroke="#999" stroke-width="0.5" />
<line x1="383.9" y1="146.5" x2="383.9" y2="149.3" stroke="#bbb" stroke-width="0.4" />
<rect x="393.9" y="84" width="1.2" height="63.5" fill="#6a6a6a" stroke="none" stroke-width="0.55" />
<line x1="390.8" y1="85" x2="394.6" y2="85" stroke="#999" stroke-width="0.5" />
<line x1="390.8" y1="85" x2="390.8" y2="87.8" stroke="#bbb" stroke-width="0.4" />
<line x1="390.8" y1="89.1" x2="394.6" y2="89.1" stroke="#999" stroke-width="0.5" />
<line x1="390.8" y1="89.1" x2="390.8" y2="91.9" stroke="#bbb" stroke-width="0.4" />
<line x1="390.8" y1="93.2" x2="394.6" y2="93.2" stroke="#999" stroke-width="0.5" />
<line x1="390.8" y1="93.2" x2="390.8" y2="96" stroke="#bbb" stroke-width="0.4" />
<line x1="390.8" y1="97.3" x2="394.6" y2="97.3" stroke="#999" stroke-width="0.5" />
<line x1="390.8" y1="97.3" x2="390.8" y2="100.1" stroke="#bbb" stroke-width="0.4" />
<line x1="390.8" y1="101.4" x2="394.6" y2="101.4" stroke="#999" stroke-width="0.5" />
<line x1="390.8" y1="101.4" x2="390.8" y2="104.2" stroke="#bbb" stroke-width="0.4" />
<line x1="390.8" y1="105.5" x2="394.6" y2="105.5" stroke="#999" stroke-width="0.5" />
<line x1="390.8" y1="105.5" x2="390.8" y2="108.3" stroke="#bbb" stroke-width="0.4" />
<line x1="390.8" y1="109.6" x2="394.6" y2="109.6" stroke="#999" stroke-width="0.5" />
<line x1="390.8" y1="109.6" x2="390.8" y2="112.4" stroke="#bbb" stroke-width="0.4" />
<line x1="390.8" y1="113.7" x2="394.6" y2="113.7" stroke="#999" stroke-width="0.5" />
<line x1="390.8" y1="113.7" x2="390.8" y2="116.5" stroke="#bbb" stroke-width="0.4" />
<line x1="390.8" y1="117.8" x2="394.6" y2="117.8" stroke="#999" stroke-width="0.5" />
<line x1="390.8" y1="117.8" x2="390.8" y2="120.6" stroke="#bbb" stroke-width="0.4" />
<line x1="390.8" y1="121.9" x2="394.6" y2="121.9" stroke="#999" stroke-width="0.5" />
<line x1="390.8" y1="121.9" x2="390.8" y2="124.7" stroke="#bbb" stroke-width="0.4" />
<line x1="390.8" y1="126" x2="394.6" y2="126" stroke="#999" stroke-width="0.5" />
<line x1="390.8" y1="126" x2="390.8" y2="128.8" stroke="#bbb" stroke-width="0.4" />
<line x1="390.8" y1="130.1" x2="394.6" y2="130.1" stroke="#999" stroke-width="0.5" />
<line x1="390.8" y1="130.1" x2="390.8" y2="132.9" stroke="#bbb" stroke-width="0.4" />
<line x1="390.8" y1="134.2" x2="394.6" y2="134.2" stroke="#999" stroke-width="0.5" />
<line x1="390.8" y1="134.2" x2="390.8" y2="137" stroke="#bbb" stroke-width="0.4" />
<line x1="390.8" y1="138.3" x2="394.6" y2="138.3" stroke="#999" stroke-width="0.5" />
<line x1="390.8" y1="138.3" x2="390.8" y2="141.1" stroke="#bbb" stroke-width="0.4" />
<line x1="390.8" y1="142.4" x2="394.6" y2="142.4" stroke="#999" stroke-width="0.5" />
<line x1="390.8" y1="142.4" x2="390.8" y2="145.2" stroke="#bbb" stroke-width="0.4" />
<line x1="390.8" y1="146.5" x2="394.6" y2="146.5" stroke="#999" stroke-width="0.5" />
<line x1="390.8" y1="146.5" x2="390.8" y2="149.3" stroke="#bbb" stroke-width="0.4" />
<rect x="400.8" y="84" width="1.2" height="63.5" fill="#6a6a6a" stroke="none" stroke-width="0.55" />
<line x1="397.6" y1="85" x2="401.4" y2="85" stroke="#999" stroke-width="0.5" />
<line x1="397.6" y1="85" x2="397.6" y2="87.8" stroke="#bbb" stroke-width="0.4" />
<line x1="397.6" y1="89.1" x2="401.4" y2="89.1" stroke="#999" stroke-width="0.5" />
<line x1="397.6" y1="89.1" x2="397.6" y2="91.9" stroke="#bbb" stroke-width="0.4" />
<line x1="397.6" y1="93.2" x2="401.4" y2="93.2" stroke="#999" stroke-width="0.5" />
<line x1="397.6" y1="93.2" x2="397.6" y2="96" stroke="#bbb" stroke-width="0.4" />
<line x1="397.6" y1="97.3" x2="401.4" y2="97.3" stroke="#999" stroke-width="0.5" />
<line x1="397.6" y1="97.3" x2="397.6" y2="100.1" stroke="#bbb" stroke-width="0.4" />
<line x1="397.6" y1="101.4" x2="401.4" y2="101.4" stroke="#999" stroke-width="0.5" />
<line x1="397.6" y1="101.4" x2="397.6" y2="104.2" stroke="#bbb" stroke-width="0.4" />
<line x1="397.6" y1="105.5" x2="401.4" y2="105.5" stroke="#999" stroke-width="0.5" />
<line x1="397.6" y1="105.5" x2="397.6" y2="108.3" stroke="#bbb" stroke-width="0.4" />
<line x1="397.6" y1="109.6" x2="401.4" y2="109.6" stroke="#999" stroke-width="0.5" />
<line x1="397.6" y1="109.6" x2="397.6" y2="112.4" stroke="#bbb" stroke-width="0.4" />
<line x1="397.6" y1="113.7" x2="401.4" y2="113.7" stroke="#999" stroke-width="0.5" />
<line x1="397.6" y1="113.7" x2="397.6" y2="116.5" stroke="#bbb" stroke-width="0.4" />
<line x1="397.6" y1="117.8" x2="401.4" y2="117.8" stroke="#999" stroke-width="0.5" />
<line x1="397.6" y1="117.8" x2="397.6" y2="120.6" stroke="#bbb" stroke-width="0.4" />
<line x1="397.6" y1="121.9" x2="401.4" y2="121.9" stroke="#999" stroke-width="0.5" />
<line x1="397.6" y1="121.9" x2="397.6" y2="124.7" stroke="#bbb" stroke-width="0.4" />
<line x1="397.6" y1="126" x2="401.4" y2="126" stroke="#999" stroke-width="0.5" />
<line x1="397.6" y1="126" x2="397.6" y2="128.8" stroke="#bbb" stroke-width="0.4" />
<line x1="397.6" y1="130.1" x2="401.4" y2="130.1" stroke="#999" stroke-width="0.5" />
<line x1="397.6" y1="130.1" x2="397.6" y2="132.9" stroke="#bbb" stroke-width="0.4" />
<line x1="397.6" y1="134.2" x2="401.4" y2="134.2" stroke="#999" stroke-width="0.5" />
<line x1="397.6" y1="134.2" x2="397.6" y2="137" stroke="#bbb" stroke-width="0.4" />
<line x1="397.6" y1="138.3" x2="401.4" y2="138.3" stroke="#999" stroke-width="0.5" />
<line x1="397.6" y1="138.3" x2="397.6" y2="141.1" stroke="#bbb" stroke-width="0.4" />
<line x1="397.6" y1="142.4" x2="401.4" y2="142.4" stroke="#999" stroke-width="0.5" />
<line x1="397.6" y1="142.4" x2="397.6" y2="145.2" stroke="#bbb" stroke-width="0.4" />
<line x1="397.6" y1="146.5" x2="401.4" y2="146.5" stroke="#999" stroke-width="0.5" />
<line x1="397.6" y1="146.5" x2="397.6" y2="149.3" stroke="#bbb" stroke-width="0.4" />
<rect x="407.6" y="84" width="1.2" height="63.5" fill="#6a6a6a" stroke="none" stroke-width="0.55" />
<line x1="404.4" y1="85" x2="408.2" y2="85" stroke="#999" stroke-width="0.5" />
<line x1="404.4" y1="85" x2="404.4" y2="87.8" stroke="#bbb" stroke-width="0.4" />
<line x1="404.4" y1="89.1" x2="408.2" y2="89.1" stroke="#999" stroke-width="0.5" />
<line x1="404.4" y1="89.1" x2="404.4" y2="91.9" stroke="#bbb" stroke-width="0.4" />
<line x1="404.4" y1="93.2" x2="408.2" y2="93.2" stroke="#999" stroke-width="0.5" />
<line x1="404.4" y1="93.2" x2="404.4" y2="96" stroke="#bbb" stroke-width="0.4" />
<line x1="404.4" y1="97.3" x2="408.2" y2="97.3" stroke="#999" stroke-width="0.5" />
<line x1="404.4" y1="97.3" x2="404.4" y2="100.1" stroke="#bbb" stroke-width="0.4" />
<line x1="404.4" y1="101.4" x2="408.2" y2="101.4" stroke="#999" stroke-width="0.5" />
<line x1="404.4" y1="101.4" x2="404.4" y2="104.2" stroke="#bbb" stroke-width="0.4" />
<line x1="404.4" y1="105.5" x2="408.2" y2="105.5" stroke="#999" stroke-width="0.5" />
<line x1="404.4" y1="105.5" x2="404.4" y2="108.3" stroke="#bbb" stroke-width="0.4" />
<line x1="404.4" y1="109.6" x2="408.2" y2="109.6" stroke="#999" stroke-width="0.5" />
<line x1="404.4" y1="109.6" x2="404.4" y2="112.4" stroke="#bbb" stroke-width="0.4" />
<line x1="404.4" y1="113.7" x2="408.2" y2="113.7" stroke="#999" stroke-width="0.5" />
<line x1="404.4" y1="113.7" x2="404.4" y2="116.5" stroke="#bbb" stroke-width="0.4" />
<line x1="404.4" y1="117.8" x2="408.2" y2="117.8" stroke="#999" stroke-width="0.5" />
<line x1="404.4" y1="117.8" x2="404.4" y2="120.6" stroke="#bbb" stroke-width="0.4" />
<line x1="404.4" y1="121.9" x2="408.2" y2="121.9" stroke="#999" stroke-width="0.5" />
<line x1="404.4" y1="121.9" x2="404.4" y2="124.7" stroke="#bbb" stroke-width="0.4" />
<line x1="404.4" y1="126" x2="408.2" y2="126" stroke="#999" stroke-width="0.5" />
<line x1="404.4" y1="126" x2="404.4" y2="128.8" stroke="#bbb" stroke-width="0.4" />
<line x1="404.4" y1="130.1" x2="408.2" y2="130.1" stroke="#999" stroke-width="0.5" />
<line x1="404.4" y1="130.1" x2="404.4" y2="132.9" stroke="#bbb" stroke-width="0.4" />
<line x1="404.4" y1="134.2" x2="408.2" y2="134.2" stroke="#999" stroke-width="0.5" />
<line x1="404.4" y1="134.2" x2="404.4" y2="137" stroke="#bbb" stroke-width="0.4" />
<line x1="404.4" y1="138.3" x2="408.2" y2="138.3" stroke="#999" stroke-width="0.5" />
<line x1="404.4" y1="138.3" x2="404.4" y2="141.1" stroke="#bbb" stroke-width="0.4" />
<line x1="404.4" y1="142.4" x2="408.2" y2="142.4" stroke="#999" stroke-width="0.5" />
<line x1="404.4" y1="142.4" x2="404.4" y2="145.2" stroke="#bbb" stroke-width="0.4" />
<line x1="404.4" y1="146.5" x2="408.2" y2="146.5" stroke="#999" stroke-width="0.5" />
<line x1="404.4" y1="146.5" x2="404.4" y2="149.3" stroke="#bbb" stroke-width="0.4" />
<rect x="414.5" y="84" width="1.2" height="63.5" fill="#6a6a6a" stroke="none" stroke-width="0.55" />
<line x1="411.3" y1="85" x2="415.1" y2="85" stroke="#999" stroke-width="0.5" />
<line x1="411.3" y1="85" x2="411.3" y2="87.8" stroke="#bbb" stroke-width="0.4" />
<line x1="411.3" y1="89.1" x2="415.1" y2="89.1" stroke="#999" stroke-width="0.5" />
<line x1="411.3" y1="89.1" x2="411.3" y2="91.9" stroke="#bbb" stroke-width="0.4" />
<line x1="411.3" y1="93.2" x2="415.1" y2="93.2" stroke="#999" stroke-width="0.5" />
<line x1="411.3" y1="93.2" x2="411.3" y2="96" stroke="#bbb" stroke-width="0.4" />
<line x1="411.3" y1="97.3" x2="415.1" y2="97.3" stroke="#999" stroke-width="0.5" />
<line x1="411.3" y1="97.3" x2="411.3" y2="100.1" stroke="#bbb" stroke-width="0.4" />
<line x1="411.3" y1="101.4" x2="415.1" y2="101.4" stroke="#999" stroke-width="0.5" />
<line x1="411.3" y1="101.4" x2="411.3" y2="104.2" stroke="#bbb" stroke-width="0.4" />
<line x1="411.3" y1="105.5" x2="415.1" y2="105.5" stroke="#999" stroke-width="0.5" />
<line x1="411.3" y1="105.5" x2="411.3" y2="108.3" stroke="#bbb" stroke-width="0.4" />
<line x1="411.3" y1="109.6" x2="415.1" y2="109.6" stroke="#999" stroke-width="0.5" />
<line x1="411.3" y1="109.6" x2="411.3" y2="112.4" stroke="#bbb" stroke-width="0.4" />
<line x1="411.3" y1="113.7" x2="415.1" y2="113.7" stroke="#999" stroke-width="0.5" />
<line x1="411.3" y1="113.7" x2="411.3" y2="116.5" stroke="#bbb" stroke-width="0.4" />
<line x1="411.3" y1="117.8" x2="415.1" y2="117.8" stroke="#999" stroke-width="0.5" />
<line x1="411.3" y1="117.8" x2="411.3" y2="120.6" stroke="#bbb" stroke-width="0.4" />
<line x1="411.3" y1="121.9" x2="415.1" y2="121.9" stroke="#999" stroke-width="0.5" />
<line x1="411.3" y1="121.9" x2="411.3" y2="124.7" stroke="#bbb" stroke-width="0.4" />
<line x1="411.3" y1="126" x2="415.1" y2="126" stroke="#999" stroke-width="0.5" />
<line x1="411.3" y1="126" x2="411.3" y2="128.8" stroke="#bbb" stroke-width="0.4" />
<line x1="411.3" y1="130.1" x2="415.1" y2="130.1" stroke="#999" stroke-width="0.5" />
<line x1="411.3" y1="130.1" x2="411.3" y2="132.9" stroke="#bbb" stroke-width="0.4" />
<line x1="411.3" y1="134.2" x2="415.1" y2="134.2" stroke="#999" stroke-width="0.5" />
<line x1="411.3" y1="134.2" x2="411.3" y2="137" stroke="#bbb" stroke-width="0.4" />
<line x1="411.3" y1="138.3" x2="415.1" y2="138.3" stroke="#999" stroke-width="0.5" />
<line x1="411.3" y1="138.3" x2="411.3" y2="141.1" stroke="#bbb" stroke-width="0.4" />
<line x1="411.3" y1="142.4" x2="415.1" y2="142.4" stroke="#999" stroke-width="0.5" />
<line x1="411.3" y1="142.4" x2="411.3" y2="145.2" stroke="#bbb" stroke-width="0.4" />
<line x1="411.3" y1="146.5" x2="415.1" y2="146.5" stroke="#999" stroke-width="0.5" />
<line x1="411.3" y1="146.5" x2="411.3" y2="149.3" stroke="#bbb" stroke-width="0.4" />
<line x1="366" y1="72" x2="366" y2="158" stroke="#ccc" stroke-width="0.5" />
<line x1="369.5" y1="72" x2="369.5" y2="84" stroke="#d0d0d0" stroke-width="0.4" />
<line x1="369.5" y1="148" x2="369.5" y2="158" stroke="#d0d0d0" stroke-width="0.4" />
<line x1="376.4" y1="72" x2="376.4" y2="84" stroke="#d0d0d0" stroke-width="0.4" />
<line x1="376.4" y1="148" x2="376.4" y2="158" stroke="#d0d0d0" stroke-width="0.4" />
<line x1="383.2" y1="72" x2="383.2" y2="84" stroke="#d0d0d0" stroke-width="0.4" />
<line x1="383.2" y1="148" x2="383.2" y2="158" stroke="#d0d0d0" stroke-width="0.4" />
<line x1="390.1" y1="72" x2="390.1" y2="84" stroke="#d0d0d0" stroke-width="0.4" />
<line x1="390.1" y1="148" x2="390.1" y2="158" stroke="#d0d0d0" stroke-width="0.4" />
<line x1="396.9" y1="72" x2="396.9" y2="84" stroke="#d0d0d0" stroke-width="0.4" />
<line x1="396.9" y1="148" x2="396.9" y2="158" stroke="#d0d0d0" stroke-width="0.4" />
<line x1="403.8" y1="72" x2="403.8" y2="84" stroke="#d0d0d0" stroke-width="0.4" />
<line x1="403.8" y1="148" x2="403.8" y2="158" stroke="#d0d0d0" stroke-width="0.4" />
<line x1="410.6" y1="72" x2="410.6" y2="84" stroke="#d0d0d0" stroke-width="0.4" />
<line x1="410.6" y1="148" x2="410.6" y2="158" stroke="#d0d0d0" stroke-width="0.4" />
<rect x="238" y="190" width="62" height="-2" fill="none" stroke="none" stroke-width="0.55" />
<line x1="236" y1="176" x2="275" y2="176" stroke="#cfcfcf" stroke-width="0.4" stroke-dasharray="1 0.8"/>
<line x1="236" y1="180" x2="275" y2="180" stroke="#cfcfcf" stroke-width="0.4" stroke-dasharray="1 0.8"/>
<line x1="236" y1="184" x2="275" y2="184" stroke="#cfcfcf" stroke-width="0.4" stroke-dasharray="1 0.8"/>
<line x1="240" y1="174" x2="240" y2="186" stroke="#d8d8d8" stroke-width="0.4" />
<line x1="246" y1="174" x2="246" y2="186" stroke="#d8d8d8" stroke-width="0.4" />
<line x1="252" y1="174" x2="252" y2="186" stroke="#d8d8d8" stroke-width="0.4" />
<line x1="258" y1="174" x2="258" y2="186" stroke="#d8d8d8" stroke-width="0.4" />
<line x1="264" y1="174" x2="264" y2="186" stroke="#d8d8d8" stroke-width="0.4" />
<rect x="327.5" y="185" width="37.5" height="9" fill="none" stroke="#c8c8c8" stroke-width="0.45" />
<line x1="333" y1="187" x2="333" y2="193" stroke="#d0d0d0" stroke-width="0.4" />
<line x1="337" y1="187" x2="337" y2="193" stroke="#d0d0d0" stroke-width="0.4" />
<line x1="341" y1="187" x2="341" y2="193" stroke="#d0d0d0" stroke-width="0.4" />
<line x1="345" y1="187" x2="345" y2="193" stroke="#d0d0d0" stroke-width="0.4" />
<rect x="228.5" y="165" width="18.5" height="15" fill="none" stroke="#ccc" stroke-width="0.4" />
<line x1="443.6" y1="182" x2="441.5" y2="169.3" stroke="#d2d2d2" stroke-width="0.4" />
<line x1="445.1" y1="182.3" x2="449.6" y2="170.3" stroke="#d2d2d2" stroke-width="0.4" />
<line x1="446.4" y1="183" x2="456.7" y2="173.1" stroke="#d2d2d2" stroke-width="0.4" />
<line x1="447.4" y1="184.1" x2="462.1" y2="177.4" stroke="#d2d2d2" stroke-width="0.4" />
<line x1="448" y1="185.6" x2="465.2" y2="182.8" stroke="#d2d2d2" stroke-width="0.4" />
<line x1="448.1" y1="187.1" x2="465.5" y2="188.5" stroke="#d2d2d2" stroke-width="0.4" />
<line x1="447.6" y1="188.5" x2="463.1" y2="194" stroke="#d2d2d2" stroke-width="0.4" />
<line x1="446.7" y1="189.8" x2="458.2" y2="198.6" stroke="#d2d2d2" stroke-width="0.4" />
<line x1="445.4" y1="190.6" x2="451.3" y2="201.8" stroke="#d2d2d2" stroke-width="0.4" />
<line x1="444" y1="191" x2="443.4" y2="203.2" stroke="#d2d2d2" stroke-width="0.4" />
<line x1="442.4" y1="190.8" x2="435.2" y2="202.7" stroke="#d2d2d2" stroke-width="0.4" />
<line x1="441.1" y1="190.2" x2="427.8" y2="200.3" stroke="#d2d2d2" stroke-width="0.4" />
<line x1="440" y1="189.1" x2="421.9" y2="196.3" stroke="#d2d2d2" stroke-width="0.4" />
<path d="M441.5,169.3 A24.2,17 0 1 1 419.6,193.5" fill="none" stroke="#707070" stroke-width="1.8"/>
<path d="M419.6,193.5 A24.2,17 0 0 1 441.5,169.3" fill="none" stroke="#c8c8c8" stroke-width="0.5" stroke-dasharray="1 1"/>
<path d="M443.6,182 A4.5,4.5 0 1 1 438.6,189.6" fill="none" stroke="#777" stroke-width="1"/>
<polygon points="426.4,197.8 438.6,189.4 434.5,201.5" fill="#6e6e6e" stroke="none" stroke-width="1.0" />
<text x="262.3" y="58.4" fill="#d81e1e" font-size="9.5" font-weight="bold" text-anchor="middle" stroke="#fff" stroke-width="1.4" paint-order="stroke" transform="translate(262.3,0) scale(0.95,1) translate(-262.3,0)">5</text>
<text x="230.5" y="121.5" fill="#d81e1e" font-size="9.5" font-weight="bold" text-anchor="middle" stroke="#fff" stroke-width="1.4" paint-order="stroke" transform="translate(230.5,0) scale(0.95,1) translate(-230.5,0)">4</text>
<text x="298.5" y="121.5" fill="#d81e1e" font-size="9.5" font-weight="bold" text-anchor="middle" stroke="#fff" stroke-width="1.4" paint-order="stroke" transform="translate(298.5,0) scale(0.95,1) translate(-298.5,0)">3</text>
<text x="357.4" y="121.5" fill="#d81e1e" font-size="9.5" font-weight="bold" text-anchor="middle" stroke="#fff" stroke-width="1.4" paint-order="stroke" transform="translate(357.4,0) scale(0.95,1) translate(-357.4,0)">2</text>
<text x="439.3" y="180.7" fill="#d81e1e" font-size="9.5" font-weight="bold" text-anchor="middle" stroke="#fff" stroke-width="1.4" paint-order="stroke" transform="translate(439.3,0) scale(0.95,1) translate(-439.3,0)">8</text>
<text x="485.7" y="193" fill="#d81e1e" font-size="9.5" font-weight="bold" text-anchor="middle" stroke="#fff" stroke-width="1.4" paint-order="stroke" transform="translate(485.7,0) scale(0.95,1) translate(-485.7,0)">1</text>
<text x="319.2" y="211" fill="#d81e1e" font-size="9.5" font-weight="bold" text-anchor="middle" stroke="#fff" stroke-width="1.4" paint-order="stroke" transform="translate(319.2,0) scale(0.95,1) translate(-319.2,0)">6</text>
<text x="572.3" y="149.8" fill="#d81e1e" font-size="9.5" font-weight="bold" text-anchor="middle" stroke="#fff" stroke-width="1.4" paint-order="stroke" transform="translate(572.3,0) scale(0.95,1) translate(-572.3,0)">6</text>
<text x="359.6" y="251.6" fill="#d81e1e" font-size="9.5" font-weight="bold" text-anchor="middle" stroke="#fff" stroke-width="1.4" paint-order="stroke" transform="translate(359.6,0) scale(0.95,1) translate(-359.6,0)">6</text>
<text x="535.3" y="251.8" fill="#d81e1e" font-size="9.5" font-weight="bold" text-anchor="middle" stroke="#fff" stroke-width="1.4" paint-order="stroke" transform="translate(535.3,0) scale(0.95,1) translate(-535.3,0)">6</text>
<text x="402.7" y="328.4" fill="#d81e1e" font-size="9.5" font-weight="bold" text-anchor="middle" stroke="#fff" stroke-width="1.4" paint-order="stroke" transform="translate(402.7,0) scale(0.95,1) translate(-402.7,0)">7</text>
<text x="582.7" y="330.6" fill="#d81e1e" font-size="9.5" font-weight="bold" text-anchor="middle" stroke="#fff" stroke-width="1.4" paint-order="stroke" transform="translate(582.7,0) scale(0.95,1) translate(-582.7,0)">6</text>
</svg>
</body></html>
